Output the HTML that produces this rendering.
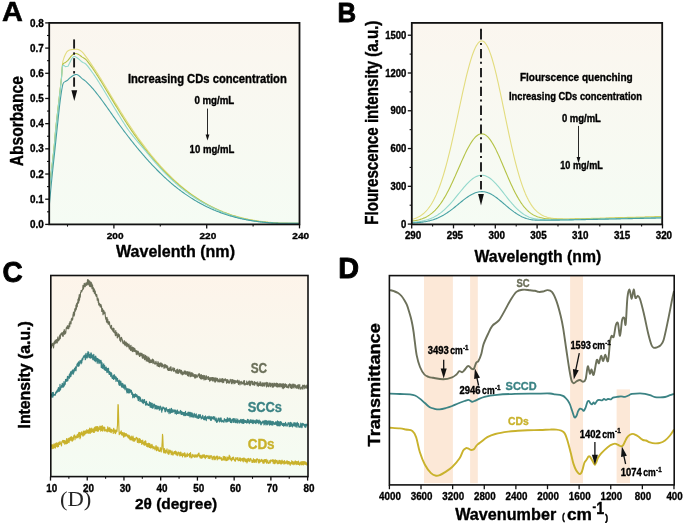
<!DOCTYPE html><html><head><meta charset="utf-8"><style>html,body{margin:0;padding:0;background:#fff;}svg{display:block;will-change:transform;}text{font-family:"Liberation Sans", sans-serif;}</style></head><body>
<svg width="685" height="523" viewBox="0 0 685 523">
<defs><linearGradient id="gA" x1="0" y1="0" x2="0" y2="1"><stop offset="0" stop-color="#fbf6ef"/><stop offset="1" stop-color="#f5fcf4"/></linearGradient><linearGradient id="gC" x1="0" y1="0" x2="0" y2="1"><stop offset="0" stop-color="#fdf4ea"/><stop offset="1" stop-color="#f4fcf3"/></linearGradient></defs>
<rect width="685" height="523" fill="#fff"/>
<rect x="49.2" y="22.9" width="250.3" height="201.5" fill="url(#gA)"/>
<path d="M49.5,186.5C50.22,180.42 52.78,159.42 53.8,150C54.82,140.58 54.93,136.67 55.6,130C56.27,123.33 57.05,116.67 57.8,110C58.55,103.33 59.47,95.67 60.1,90C60.73,84.33 61.18,80.5 61.6,76C62.02,71.5 62.23,65.93 62.6,63C62.97,60.07 63.35,59.8 63.8,58.4C64.25,57 65.05,55.23 65.3,54.6 L66.8,51.9 L67.55,51.19 L68.3,50.63 L69.05,50.29 L69.8,50.04 L70.55,49.82 L71.3,49.67 L72.05,49.57 L72.8,49.5 L73.55,49.44 L74.3,49.37 L75.05,49.3 L75.8,49.24 L76.55,49.23 L77.3,49.3 L78.05,49.48 L78.8,49.74 L79.55,50.1 L80.3,50.54 L81.05,51.06 L81.8,51.68 L82.55,52.39 L83.3,53.21 L84.05,54.11 L84.8,55.06 L85.55,56.05 L86.3,57.06 L87.05,58.08 L87.8,59.12 L88.55,60.17 L89.3,61.23 L90.05,62.3 L90.8,63.39 L91.55,64.49 L92.3,65.59 L93.05,66.71 L93.8,67.84 L94.55,68.98 L95.3,70.13 L96.05,71.29 L96.8,72.46 L97.55,73.63 L98.3,74.82 L99.05,76.01 L99.8,77.2 L100.55,78.41 L101.3,79.61 L102.05,80.83 L102.8,82.05 L103.55,83.27 L104.3,84.5 L105.05,85.74 L105.8,86.97 L106.55,88.21 L107.3,89.45 L108.05,90.7 L108.8,91.94 L109.55,93.19 L110.3,94.44 L111.05,95.69 L111.8,96.93 L112.55,98.18 L113.3,99.43 L114.05,100.67 L114.8,101.92 L115.55,103.16 L116.3,104.39 L117.05,105.63 L117.8,106.86 L118.55,108.09 L119.3,109.31 L120.05,110.53 L120.8,111.74 L121.55,112.95 L122.3,114.15 L123.05,115.35 L123.8,116.53 L124.55,117.71 L125.3,118.89 L126.05,120.06 L126.8,121.22 L127.55,122.37 L128.3,123.51 L129.05,124.65 L129.8,125.78 L130.55,126.91 L131.3,128.02 L132.05,129.13 L132.8,130.24 L133.55,131.33 L134.3,132.42 L135.05,133.5 L135.8,134.57 L136.55,135.64 L137.3,136.7 L138.05,137.75 L138.8,138.8 L139.55,139.84 L140.3,140.87 L141.05,141.89 L141.8,142.91 L142.55,143.92 L143.3,144.92 L144.05,145.92 L144.8,146.91 L145.55,147.89 L146.3,148.86 L147.05,149.83 L147.8,150.79 L148.55,151.74 L149.3,152.68 L150.05,153.62 L150.8,154.55 L151.55,155.48 L152.3,156.39 L153.05,157.3 L153.8,158.21 L154.55,159.1 L155.3,159.99 L156.05,160.87 L156.8,161.74 L157.55,162.61 L158.3,163.47 L159.05,164.32 L159.8,165.16 L160.55,166 L161.3,166.83 L162.05,167.66 L162.8,168.47 L163.55,169.28 L164.3,170.08 L165.05,170.88 L165.8,171.66 L166.55,172.44 L167.3,173.22 L168.05,173.98 L168.8,174.74 L169.55,175.49 L170.3,176.24 L171.05,176.97 L171.8,177.7 L172.55,178.43 L173.3,179.14 L174.05,179.85 L174.8,180.55 L175.55,181.24 L176.3,181.93 L177.05,182.61 L177.8,183.28 L178.55,183.95 L179.3,184.6 L180.05,185.25 L180.8,185.9 L181.55,186.53 L182.3,187.16 L183.05,187.78 L183.8,188.4 L184.55,189.01 L185.3,189.61 L186.05,190.2 L186.8,190.79 L187.55,191.37 L188.3,191.95 L189.05,192.51 L189.8,193.07 L190.55,193.63 L191.3,194.17 L192.05,194.71 L192.8,195.25 L193.55,195.78 L194.3,196.3 L195.05,196.81 L195.8,197.32 L196.55,197.82 L197.3,198.32 L198.05,198.81 L198.8,199.29 L199.55,199.77 L200.3,200.24 L201.05,200.7 L201.8,201.16 L202.55,201.61 L203.3,202.06 L204.05,202.5 L204.8,202.94 L205.55,203.36 L206.3,203.79 L207.05,204.2 L207.8,204.62 L208.55,205.02 L209.3,205.42 L210.05,205.82 L210.8,206.2 L211.55,206.59 L212.3,206.96 L213.05,207.34 L213.8,207.7 L214.55,208.06 L215.3,208.42 L216.05,208.77 L216.8,209.11 L217.55,209.45 L218.3,209.79 L219.05,210.12 L219.8,210.44 L220.55,210.76 L221.3,211.07 L222.05,211.38 L222.8,211.69 L223.55,211.98 L224.3,212.28 L225.05,212.57 L225.8,212.85 L226.55,213.13 L227.3,213.4 L228.05,213.67 L228.8,213.94 L229.55,214.2 L230.3,214.45 L231.05,214.7 L231.8,214.95 L232.55,215.19 L233.3,215.43 L234.05,215.66 L234.8,215.89 L235.55,216.12 L236.3,216.34 L237.05,216.55 L237.8,216.76 L238.55,216.97 L239.3,217.17 L240.05,217.37 L240.8,217.56 L241.55,217.75 L242.3,217.94 L243.05,218.12 L243.8,218.3 L244.55,218.48 L245.3,218.65 L246.05,218.81 L246.8,218.98 L247.55,219.14 L248.3,219.29 L249.05,219.44 L249.8,219.59 L250.55,219.74 L251.3,219.88 L252.05,220.01 L252.8,220.15 L253.55,220.28 L254.3,220.4 L255.05,220.53 L255.8,220.65 L256.55,220.77 L257.3,220.88 L258.05,220.99 L258.8,221.1 L259.55,221.2 L260.3,221.3 L261.05,221.4 L261.8,221.49 L262.55,221.59 L263.3,221.67 L264.05,221.76 L264.8,221.84 L265.55,221.92 L266.3,222 L267.05,222.07 L267.8,222.15 L268.55,222.22 L269.3,222.28 L270.05,222.35 L270.8,222.41 L271.55,222.47 L272.3,222.52 L273.05,222.57 L273.8,222.63 L274.55,222.67 L275.3,222.72 L276.05,222.76 L276.8,222.81 L277.55,222.85 L278.3,222.88 L279.05,222.92 L279.8,222.95 L280.55,222.98 L281.3,223.01 L282.05,223.04 L282.8,223.06 L283.55,223.09 L284.3,223.11 L285.05,223.13 L285.8,223.14 L286.55,223.16 L287.3,223.17 L288.05,223.18 L288.8,223.19 L289.55,223.2 L290.3,223.21 L291.05,223.21 L291.8,223.22 L292.55,223.22 L293.3,223.22 L294.05,223.22 L294.8,223.22 L295.55,223.22 L296.3,223.21 L297.05,223.21 L297.8,223.2 L298.55,223.2" fill="none" stroke="#e3dc7e" stroke-width="1.1" stroke-linejoin="round"/>
<path d="M49.5,187C50.22,180.92 52.78,159.92 53.8,150.5C54.82,141.08 54.93,137.17 55.6,130.5C56.27,123.83 57.05,117.17 57.8,110.5C58.55,103.83 59.47,96.17 60.1,90.5C60.73,84.83 61.18,80.75 61.6,76.5C62.02,72.25 61.98,67.32 62.6,65C63.22,62.68 64.85,63 65.3,62.6 L68,60.4 L68.75,59.31 L69.5,58.31 L70.25,57.36 L71,56.44 L71.75,55.58 L72.5,54.84 L73.25,54.25 L74,53.83 L74.75,53.57 L75.5,53.47 L76.25,53.5 L77,53.68 L77.75,53.99 L78.5,54.4 L79.25,54.88 L80,55.41 L80.75,55.98 L81.5,56.56 L82.25,57.12 L83,57.6 L83.75,58.02 L84.5,58.45 L85.25,58.98 L86,59.67 L86.75,60.5 L87.5,61.42 L88.25,62.37 L89,63.34 L89.75,64.33 L90.5,65.33 L91.25,66.36 L92,67.41 L92.75,68.49 L93.5,69.6 L94.25,70.73 L95,71.87 L95.75,73.03 L96.5,74.19 L97.25,75.36 L98,76.54 L98.75,77.73 L99.5,78.92 L100.25,80.12 L101,81.33 L101.75,82.54 L102.5,83.76 L103.25,84.98 L104,86.21 L104.75,87.44 L105.5,88.68 L106.25,89.92 L107,91.16 L107.75,92.4 L108.5,93.65 L109.25,94.89 L110,96.14 L110.75,97.39 L111.5,98.63 L112.25,99.88 L113,101.13 L113.75,102.37 L114.5,103.62 L115.25,104.86 L116,106.1 L116.75,107.34 L117.5,108.57 L118.25,109.8 L119,111.02 L119.75,112.24 L120.5,113.46 L121.25,114.67 L122,115.87 L122.75,117.07 L123.5,118.26 L124.25,119.44 L125,120.62 L125.75,121.79 L126.5,122.95 L127.25,124.11 L128,125.26 L128.75,126.39 L129.5,127.52 L130.25,128.64 L131,129.74 L131.75,130.84 L132.5,131.92 L133.25,133 L134,134.06 L134.75,135.13 L135.5,136.18 L136.25,137.23 L137,138.27 L137.75,139.3 L138.5,140.33 L139.25,141.35 L140,142.36 L140.75,143.36 L141.5,144.36 L142.25,145.35 L143,146.33 L143.75,147.31 L144.5,148.28 L145.25,149.24 L146,150.19 L146.75,151.14 L147.5,152.08 L148.25,153.01 L149,153.94 L149.75,154.86 L150.5,155.77 L151.25,156.67 L152,157.57 L152.75,158.46 L153.5,159.34 L154.25,160.22 L155,161.08 L155.75,161.95 L156.5,162.8 L157.25,163.65 L158,164.49 L158.75,165.32 L159.5,166.14 L160.25,166.96 L161,167.77 L161.75,168.58 L162.5,169.37 L163.25,170.16 L164,170.94 L164.75,171.72 L165.5,172.49 L166.25,173.25 L167,174 L167.75,174.75 L168.5,175.48 L169.25,176.22 L170,176.94 L170.75,177.66 L171.5,178.37 L172.25,179.07 L173,179.77 L173.75,180.45 L174.5,181.14 L175.25,181.81 L176,182.48 L176.75,183.14 L177.5,183.79 L178.25,184.43 L179,185.07 L179.75,185.7 L180.5,186.33 L181.25,186.94 L182,187.55 L182.75,188.15 L183.5,188.75 L184.25,189.34 L185,189.92 L185.75,190.49 L186.5,191.06 L187.25,191.62 L188,192.18 L188.75,192.72 L189.5,193.26 L190.25,193.8 L191,194.33 L191.75,194.85 L192.5,195.37 L193.25,195.88 L194,196.4 L194.75,196.91 L195.5,197.42 L196.25,197.92 L197,198.42 L197.75,198.91 L198.5,199.4 L199.25,199.88 L200,200.35 L200.75,200.82 L201.5,201.28 L202.25,201.73 L203,202.18 L203.75,202.63 L204.5,203.06 L205.25,203.49 L206,203.92 L206.75,204.34 L207.5,204.75 L208.25,205.16 L209,205.56 L209.75,205.96 L210.5,206.35 L211.25,206.73 L212,207.11 L212.75,207.49 L213.5,207.86 L214.25,208.22 L215,208.58 L215.75,208.93 L216.5,209.28 L217.25,209.62 L218,209.95 L218.75,210.29 L219.5,210.61 L220.25,210.93 L221,211.25 L221.75,211.56 L222.5,211.86 L223.25,212.17 L224,212.46 L224.75,212.75 L225.5,213.04 L226.25,213.32 L227,213.59 L227.75,213.87 L228.5,214.13 L229.25,214.39 L230,214.65 L230.75,214.9 L231.5,215.15 L232.25,215.4 L233,215.64 L233.75,215.87 L234.5,216.1 L235.25,216.33 L236,216.55 L236.75,216.76 L237.5,216.98 L238.25,217.19 L239,217.39 L239.75,217.59 L240.5,217.79 L241.25,217.98 L242,218.17 L242.75,218.35 L243.5,218.53 L244.25,218.71 L245,218.88 L245.75,219.05 L246.5,219.21 L247.25,219.37 L248,219.53 L248.75,219.68 L249.5,219.83 L250.25,219.98 L251,220.12 L251.75,220.26 L252.5,220.39 L253.25,220.53 L254,220.65 L254.75,220.78 L255.5,220.9 L256.25,221.02 L257,221.13 L257.75,221.25 L258.5,221.35 L259.25,221.46 L260,221.56 L260.75,221.66 L261.5,221.76 L262.25,221.85 L263,221.94 L263.75,222.03 L264.5,222.11 L265.25,222.19 L266,222.27 L266.75,222.35 L267.5,222.42 L268.25,222.49 L269,222.56 L269.75,222.62 L270.5,222.68 L271.25,222.74 L272,222.8 L272.75,222.85 L273.5,222.91 L274.25,222.96 L275,223 L275.75,223.05 L276.5,223.09 L277.25,223.13 L278,223.17 L278.75,223.2 L279.5,223.24 L280.25,223.27 L281,223.3 L281.75,223.32 L282.5,223.33 L283.25,223.34 L284,223.35 L284.75,223.35 L285.5,223.35 L286.25,223.35 L287,223.35 L287.75,223.35 L288.5,223.35 L289.25,223.35 L290,223.35 L290.75,223.35 L291.5,223.35 L292.25,223.35 L293,223.35 L293.75,223.35 L294.5,223.35 L295.25,223.35 L296,223.35 L296.75,223.35 L297.5,223.35 L298.25,223.35 L299,223.35" fill="none" stroke="#b4c244" stroke-width="1.1" stroke-linejoin="round"/>
<path d="M49.5,187.5C50.22,181.42 52.78,160.42 53.8,151C54.82,141.58 54.93,137.67 55.6,131C56.27,124.33 57.05,117.67 57.8,111C58.55,104.33 59.47,96.67 60.1,91C60.73,85.33 61.18,81.17 61.6,77C62.02,72.83 61.98,67.73 62.6,66C63.22,64.27 64.85,66.5 65.3,66.6 L68,66.3 L68.75,64.75 L69.5,63.27 L70.25,61.69 L71,60.12 L71.75,58.73 L72.5,57.62 L73.25,56.9 L74,56.57 L74.75,56.57 L75.5,56.81 L76.25,57.21 L77,57.71 L77.75,58.28 L78.5,58.9 L79.25,59.54 L80,60.2 L80.75,60.86 L81.5,61.5 L82.25,62.06 L83,62.5 L83.75,62.83 L84.5,63.14 L85.25,63.58 L86,64.22 L86.75,65.04 L87.5,65.95 L88.25,66.92 L89,67.9 L89.75,68.9 L90.5,69.9 L91.25,70.92 L92,71.95 L92.75,72.99 L93.5,74.05 L94.25,75.13 L95,76.23 L95.75,77.35 L96.5,78.5 L97.25,79.66 L98,80.84 L98.75,82.03 L99.5,83.22 L100.25,84.42 L101,85.63 L101.75,86.84 L102.5,88.06 L103.25,89.28 L104,90.51 L104.75,91.74 L105.5,92.98 L106.25,94.22 L107,95.46 L107.75,96.7 L108.5,97.95 L109.25,99.19 L110,100.44 L110.75,101.69 L111.5,102.93 L112.25,104.18 L113,105.43 L113.75,106.67 L114.5,107.92 L115.25,109.16 L116,110.4 L116.75,111.64 L117.5,112.87 L118.25,114.1 L119,115.32 L119.75,116.54 L120.5,117.76 L121.25,118.97 L122,120.17 L122.75,121.37 L123.5,122.56 L124.25,123.74 L125,124.92 L125.75,126.08 L126.5,127.23 L127.25,128.35 L128,129.44 L128.75,130.49 L129.5,131.5 L130.25,132.49 L131,133.46 L131.75,134.42 L132.5,135.37 L133.25,136.31 L134,137.25 L134.75,138.18 L135.5,139.1 L136.25,140.02 L137,140.93 L137.75,141.83 L138.5,142.72 L139.25,143.61 L140,144.49 L140.75,145.36 L141.5,146.22 L142.25,147.08 L143,147.94 L143.75,148.79 L144.5,149.66 L145.25,150.55 L146,151.46 L146.75,152.38 L147.5,153.31 L148.25,154.24 L149,155.16 L149.75,156.07 L150.5,156.98 L151.25,157.88 L152,158.77 L152.75,159.66 L153.5,160.53 L154.25,161.4 L155,162.27 L155.75,163.12 L156.5,163.97 L157.25,164.81 L158,165.65 L158.75,166.48 L159.5,167.3 L160.25,168.11 L161,168.92 L161.75,169.71 L162.5,170.51 L163.25,171.29 L164,172.07 L164.75,172.84 L165.5,173.6 L166.25,174.35 L167,175.1 L167.75,175.84 L168.5,176.58 L169.25,177.3 L170,178.02 L170.75,178.74 L171.5,179.44 L172.25,180.14 L173,180.83 L173.75,181.51 L174.5,182.19 L175.25,182.86 L176,183.52 L176.75,184.17 L177.5,184.82 L178.25,185.46 L179,186.1 L179.75,186.72 L180.5,187.34 L181.25,187.95 L182,188.56 L182.75,189.15 L183.5,189.74 L184.25,190.33 L185,190.9 L185.75,191.47 L186.5,192.04 L187.25,192.59 L188,193.14 L188.75,193.68 L189.5,194.22 L190.25,194.75 L191,195.27 L191.75,195.79 L192.5,196.29 L193.25,196.8 L194,197.29 L194.75,197.78 L195.5,198.27 L196.25,198.74 L197,199.21 L197.75,199.68 L198.5,200.14 L199.25,200.59 L200,201.03 L200.75,201.47 L201.5,201.91 L202.25,202.33 L203,202.76 L203.75,203.17 L204.5,203.58 L205.25,203.98 L206,204.38 L206.75,204.77 L207.5,205.16 L208.25,205.54 L209,205.92 L209.75,206.29 L210.5,206.67 L211.25,207.04 L212,207.42 L212.75,207.79 L213.5,208.16 L214.25,208.52 L215,208.88 L215.75,209.23 L216.5,209.58 L217.25,209.92 L218,210.25 L218.75,210.59 L219.5,210.91 L220.25,211.23 L221,211.55 L221.75,211.86 L222.5,212.16 L223.25,212.47 L224,212.76 L224.75,213.05 L225.5,213.34 L226.25,213.62 L227,213.89 L227.75,214.17 L228.5,214.43 L229.25,214.69 L230,214.95 L230.75,215.2 L231.5,215.45 L232.25,215.7 L233,215.94 L233.75,216.17 L234.5,216.4 L235.25,216.63 L236,216.85 L236.75,217.06 L237.5,217.28 L238.25,217.49 L239,217.69 L239.75,217.89 L240.5,218.09 L241.25,218.28 L242,218.47 L242.75,218.65 L243.5,218.83 L244.25,219.01 L245,219.18 L245.75,219.35 L246.5,219.51 L247.25,219.67 L248,219.83 L248.75,219.98 L249.5,220.13 L250.25,220.28 L251,220.42 L251.75,220.56 L252.5,220.69 L253.25,220.83 L254,220.95 L254.75,221.08 L255.5,221.2 L256.25,221.32 L257,221.43 L257.75,221.55 L258.5,221.65 L259.25,221.76 L260,221.86 L260.75,221.96 L261.5,222.06 L262.25,222.15 L263,222.24 L263.75,222.33 L264.5,222.41 L265.25,222.49 L266,222.57 L266.75,222.65 L267.5,222.72 L268.25,222.79 L269,222.86 L269.75,222.92 L270.5,222.98 L271.25,223.04 L272,223.1 L272.75,223.15 L273.5,223.21 L274.25,223.25 L275,223.3 L275.75,223.34 L276.5,223.37 L277.25,223.38 L278,223.39 L278.75,223.4 L279.5,223.4 L280.25,223.4 L281,223.4 L281.75,223.4 L282.5,223.4 L283.25,223.4 L284,223.4 L284.75,223.4 L285.5,223.4 L286.25,223.4 L287,223.4 L287.75,223.4 L288.5,223.4 L289.25,223.4 L290,223.4 L290.75,223.4 L291.5,223.4 L292.25,223.4 L293,223.4 L293.75,223.4 L294.5,223.4 L295.25,223.4 L296,223.4 L296.75,223.4 L297.5,223.4 L298.25,223.4 L299,223.4" fill="none" stroke="#92d8cc" stroke-width="1.1" stroke-linejoin="round"/>
<path d="M49.5,203.4C49.92,199 51.1,185.9 52,177C52.9,168.1 53.98,158.67 54.9,150C55.82,141.33 56.6,133.33 57.5,125C58.4,116.67 59.4,106.8 60.3,100C61.2,93.2 62.07,87.28 62.9,84.2C63.73,81.12 64.9,81.95 65.3,81.5 L67.6,80.2 L68.35,79.38 L69.1,78.63 L69.85,77.94 L70.6,77.33 L71.35,76.74 L72.1,76.22 L72.85,75.75 L73.6,75.32 L74.35,74.94 L75.1,74.64 L75.85,74.47 L76.6,74.48 L77.35,74.69 L78.1,75.09 L78.85,75.62 L79.6,76.26 L80.35,76.95 L81.1,77.66 L81.85,78.33 L82.6,78.94 L83.35,79.5 L84.1,80.03 L84.85,80.59 L85.6,81.19 L86.35,81.84 L87.1,82.54 L87.85,83.28 L88.6,84.03 L89.35,84.81 L90.1,85.61 L90.85,86.42 L91.6,87.26 L92.35,88.11 L93.1,88.98 L93.85,89.86 L94.6,90.76 L95.35,91.68 L96.1,92.61 L96.85,93.55 L97.6,94.51 L98.35,95.48 L99.1,96.46 L99.85,97.45 L100.6,98.45 L101.35,99.46 L102.1,100.48 L102.85,101.5 L103.6,102.54 L104.35,103.58 L105.1,104.62 L105.85,105.68 L106.6,106.73 L107.35,107.79 L108.1,108.85 L108.85,109.92 L109.6,110.98 L110.35,112.05 L111.1,113.12 L111.85,114.19 L112.6,115.25 L113.35,116.32 L114.1,117.38 L114.85,118.44 L115.6,119.49 L116.35,120.54 L117.1,121.59 L117.85,122.63 L118.6,123.67 L119.35,124.7 L120.1,125.73 L120.85,126.75 L121.6,127.77 L122.35,128.79 L123.1,129.79 L123.85,130.8 L124.6,131.8 L125.35,132.79 L126.1,133.78 L126.85,134.76 L127.6,135.74 L128.35,136.72 L129.1,137.69 L129.85,138.65 L130.6,139.61 L131.35,140.56 L132.1,141.51 L132.85,142.45 L133.6,143.39 L134.35,144.33 L135.1,145.25 L135.85,146.17 L136.6,147.09 L137.35,148 L138.1,148.91 L138.85,149.81 L139.6,150.71 L140.35,151.6 L141.1,152.48 L141.85,153.36 L142.6,154.23 L143.35,155.1 L144.1,155.96 L144.85,156.82 L145.6,157.67 L146.35,158.52 L147.1,159.36 L147.85,160.19 L148.6,161.02 L149.35,161.84 L150.1,162.66 L150.85,163.47 L151.6,164.28 L152.35,165.07 L153.1,165.87 L153.85,166.66 L154.6,167.44 L155.35,168.21 L156.1,168.98 L156.85,169.75 L157.6,170.5 L158.35,171.26 L159.1,172 L159.85,172.74 L160.6,173.47 L161.35,174.2 L162.1,174.92 L162.85,175.63 L163.6,176.34 L164.35,177.04 L165.1,177.74 L165.85,178.43 L166.6,179.11 L167.35,179.79 L168.1,180.46 L168.85,181.12 L169.6,181.78 L170.35,182.43 L171.1,183.07 L171.85,183.71 L172.6,184.34 L173.35,184.97 L174.1,185.59 L174.85,186.2 L175.6,186.8 L176.35,187.4 L177.1,187.99 L177.85,188.58 L178.6,189.16 L179.35,189.74 L180.1,190.3 L180.85,190.86 L181.6,191.42 L182.35,191.97 L183.1,192.51 L183.85,193.05 L184.6,193.58 L185.35,194.11 L186.1,194.63 L186.85,195.14 L187.6,195.65 L188.35,196.15 L189.1,196.65 L189.85,197.14 L190.6,197.62 L191.35,198.1 L192.1,198.57 L192.85,199.04 L193.6,199.5 L194.35,199.96 L195.1,200.41 L195.85,200.85 L196.6,201.29 L197.35,201.73 L198.1,202.16 L198.85,202.58 L199.6,203 L200.35,203.41 L201.1,203.82 L201.85,204.22 L202.6,204.61 L203.35,205.01 L204.1,205.39 L204.85,205.77 L205.6,206.15 L206.35,206.52 L207.1,206.89 L207.85,207.25 L208.6,207.6 L209.35,207.95 L210.1,208.3 L210.85,208.64 L211.6,208.98 L212.35,209.31 L213.1,209.63 L213.85,209.96 L214.6,210.27 L215.35,210.59 L216.1,210.89 L216.85,211.2 L217.6,211.49 L218.35,211.79 L219.1,212.08 L219.85,212.36 L220.6,212.64 L221.35,212.92 L222.1,213.19 L222.85,213.46 L223.6,213.72 L224.35,213.98 L225.1,214.23 L225.85,214.48 L226.6,214.72 L227.35,214.97 L228.1,215.2 L228.85,215.44 L229.6,215.66 L230.35,215.89 L231.1,216.11 L231.85,216.33 L232.6,216.54 L233.35,216.75 L234.1,216.95 L234.85,217.15 L235.6,217.35 L236.35,217.54 L237.1,217.73 L237.85,217.92 L238.6,218.1 L239.35,218.28 L240.1,218.45 L240.85,218.62 L241.6,218.79 L242.35,218.95 L243.1,219.11 L243.85,219.27 L244.6,219.42 L245.35,219.57 L246.1,219.72 L246.85,219.86 L247.6,220 L248.35,220.13 L249.1,220.27 L249.85,220.4 L250.6,220.52 L251.35,220.64 L252.1,220.76 L252.85,220.88 L253.6,220.99 L254.35,221.1 L255.1,221.21 L255.85,221.32 L256.6,221.42 L257.35,221.52 L258.1,221.61 L258.85,221.7 L259.6,221.79 L260.35,221.88 L261.1,221.96 L261.85,222.05 L262.6,222.12 L263.35,222.2 L264.1,222.27 L264.85,222.34 L265.6,222.41 L266.35,222.48 L267.1,222.54 L267.85,222.6 L268.6,222.66 L269.35,222.71 L270.1,222.77 L270.85,222.82 L271.6,222.86 L272.35,222.91 L273.1,222.95 L273.85,222.99 L274.6,223.03 L275.35,223.07 L276.1,223.1 L276.85,223.14 L277.6,223.17 L278.35,223.2 L279.1,223.22 L279.85,223.25 L280.6,223.27 L281.35,223.28 L282.1,223.29 L282.85,223.3 L283.6,223.3 L284.35,223.3 L285.1,223.3 L285.85,223.3 L286.6,223.3 L287.35,223.3 L288.1,223.3 L288.85,223.3 L289.6,223.3 L290.35,223.3 L291.1,223.3 L291.85,223.3 L292.6,223.3 L293.35,223.3 L294.1,223.3 L294.85,223.3 L295.6,223.3 L296.35,223.3 L297.1,223.3 L297.85,223.3 L298.6,223.29" fill="none" stroke="#45a0a2" stroke-width="1.1" stroke-linejoin="round"/>
<line x1="74.1" y1="39.4" x2="74.1" y2="48.6" stroke="#1a1a1a" stroke-width="1.9"/>
<line x1="74.1" y1="52.4" x2="74.1" y2="54.7" stroke="#1a1a1a" stroke-width="1.9"/>
<line x1="74.1" y1="58.2" x2="74.1" y2="67.4" stroke="#1a1a1a" stroke-width="1.9"/>
<line x1="74.1" y1="71.1" x2="74.1" y2="73.5" stroke="#1a1a1a" stroke-width="1.9"/>
<line x1="74.1" y1="77.4" x2="74.1" y2="86.7" stroke="#1a1a1a" stroke-width="1.9"/>
<path d="M71.4,90.2 L77.2,90.2 L74.3,100.9 Z" fill="#111"/>
<rect x="49.2" y="22.9" width="250.3" height="201.5" fill="none" stroke="#111" stroke-width="1.8"/>
<line x1="45.2" y1="224.4" x2="49.2" y2="224.4" stroke="#111" stroke-width="1.3"/>
<text x="43.8" y="228" font-size="10.5" font-weight="bold" text-anchor="end" fill="#000" stroke="#000" stroke-width="0.35" stroke-linejoin="round" textLength="13.8" lengthAdjust="spacingAndGlyphs">0.0</text>
<line x1="45.2" y1="199.21" x2="49.2" y2="199.21" stroke="#111" stroke-width="1.3"/>
<text x="43.8" y="202.81" font-size="10.5" font-weight="bold" text-anchor="end" fill="#000" stroke="#000" stroke-width="0.35" stroke-linejoin="round" textLength="13.8" lengthAdjust="spacingAndGlyphs">0.1</text>
<line x1="45.2" y1="174.03" x2="49.2" y2="174.03" stroke="#111" stroke-width="1.3"/>
<text x="43.8" y="177.62" font-size="10.5" font-weight="bold" text-anchor="end" fill="#000" stroke="#000" stroke-width="0.35" stroke-linejoin="round" textLength="13.8" lengthAdjust="spacingAndGlyphs">0.2</text>
<line x1="45.2" y1="148.84" x2="49.2" y2="148.84" stroke="#111" stroke-width="1.3"/>
<text x="43.8" y="152.44" font-size="10.5" font-weight="bold" text-anchor="end" fill="#000" stroke="#000" stroke-width="0.35" stroke-linejoin="round" textLength="13.8" lengthAdjust="spacingAndGlyphs">0.3</text>
<line x1="45.2" y1="123.65" x2="49.2" y2="123.65" stroke="#111" stroke-width="1.3"/>
<text x="43.8" y="127.25" font-size="10.5" font-weight="bold" text-anchor="end" fill="#000" stroke="#000" stroke-width="0.35" stroke-linejoin="round" textLength="13.8" lengthAdjust="spacingAndGlyphs">0.4</text>
<line x1="45.2" y1="98.46" x2="49.2" y2="98.46" stroke="#111" stroke-width="1.3"/>
<text x="43.8" y="102.06" font-size="10.5" font-weight="bold" text-anchor="end" fill="#000" stroke="#000" stroke-width="0.35" stroke-linejoin="round" textLength="13.8" lengthAdjust="spacingAndGlyphs">0.5</text>
<line x1="45.2" y1="73.28" x2="49.2" y2="73.28" stroke="#111" stroke-width="1.3"/>
<text x="43.8" y="76.88" font-size="10.5" font-weight="bold" text-anchor="end" fill="#000" stroke="#000" stroke-width="0.35" stroke-linejoin="round" textLength="13.8" lengthAdjust="spacingAndGlyphs">0.6</text>
<line x1="45.2" y1="48.09" x2="49.2" y2="48.09" stroke="#111" stroke-width="1.3"/>
<text x="43.8" y="51.69" font-size="10.5" font-weight="bold" text-anchor="end" fill="#000" stroke="#000" stroke-width="0.35" stroke-linejoin="round" textLength="13.8" lengthAdjust="spacingAndGlyphs">0.7</text>
<line x1="45.2" y1="22.9" x2="49.2" y2="22.9" stroke="#111" stroke-width="1.3"/>
<text x="43.8" y="26.5" font-size="10.5" font-weight="bold" text-anchor="end" fill="#000" stroke="#000" stroke-width="0.35" stroke-linejoin="round" textLength="13.8" lengthAdjust="spacingAndGlyphs">0.8</text>
<line x1="47" y1="211.81" x2="49.2" y2="211.81" stroke="#111" stroke-width="1.1"/>
<line x1="47" y1="186.62" x2="49.2" y2="186.62" stroke="#111" stroke-width="1.1"/>
<line x1="47" y1="161.43" x2="49.2" y2="161.43" stroke="#111" stroke-width="1.1"/>
<line x1="47" y1="136.24" x2="49.2" y2="136.24" stroke="#111" stroke-width="1.1"/>
<line x1="47" y1="111.06" x2="49.2" y2="111.06" stroke="#111" stroke-width="1.1"/>
<line x1="47" y1="85.87" x2="49.2" y2="85.87" stroke="#111" stroke-width="1.1"/>
<line x1="47" y1="60.68" x2="49.2" y2="60.68" stroke="#111" stroke-width="1.1"/>
<line x1="47" y1="35.49" x2="49.2" y2="35.49" stroke="#111" stroke-width="1.1"/>
<line x1="113.9" y1="224.4" x2="113.9" y2="228.4" stroke="#111" stroke-width="1.3"/>
<text x="115.1" y="239" font-size="9.6" font-weight="bold" text-anchor="middle" fill="#000" stroke="#000" stroke-width="0.35" stroke-linejoin="round" textLength="16.8" lengthAdjust="spacingAndGlyphs">200</text>
<line x1="206.7" y1="224.4" x2="206.7" y2="228.4" stroke="#111" stroke-width="1.3"/>
<text x="207.9" y="239" font-size="9.6" font-weight="bold" text-anchor="middle" fill="#000" stroke="#000" stroke-width="0.35" stroke-linejoin="round" textLength="16.8" lengthAdjust="spacingAndGlyphs">220</text>
<line x1="299.5" y1="224.4" x2="299.5" y2="228.4" stroke="#111" stroke-width="1.3"/>
<text x="300.7" y="239" font-size="9.6" font-weight="bold" text-anchor="middle" fill="#000" stroke="#000" stroke-width="0.35" stroke-linejoin="round" textLength="16.8" lengthAdjust="spacingAndGlyphs">240</text>
<line x1="67.5" y1="224.4" x2="67.5" y2="226.6" stroke="#111" stroke-width="1.1"/>
<line x1="160.3" y1="224.4" x2="160.3" y2="226.6" stroke="#111" stroke-width="1.1"/>
<line x1="253.1" y1="224.4" x2="253.1" y2="226.6" stroke="#111" stroke-width="1.1"/>
<text x="2.1" y="21.4" font-size="28.5" font-weight="bold" fill="#000" stroke="#000" stroke-width="0.6" stroke-linejoin="round" textLength="20.9" lengthAdjust="spacingAndGlyphs">A</text>
<text x="116" y="256.7" font-size="17" font-weight="bold" fill="#000" stroke="#000" stroke-width="0.35" stroke-linejoin="round" textLength="119" lengthAdjust="spacingAndGlyphs">Wavelenth (nm)</text>
<text transform="translate(23.2 166.2) rotate(-90)" font-size="18" font-weight="bold" stroke="#000" stroke-width="0.4" textLength="90" lengthAdjust="spacingAndGlyphs">Absorbance</text>
<text x="127.9" y="83.1" font-size="12" font-weight="bold" fill="#000" stroke="#000" stroke-width="0.35" stroke-linejoin="round" textLength="158.9" lengthAdjust="spacingAndGlyphs">Increasing CDs concentration</text>
<text x="194.4" y="104.1" font-size="10" font-weight="bold" fill="#000" stroke="#000" stroke-width="0.35" stroke-linejoin="round" textLength="39.9" lengthAdjust="spacingAndGlyphs">0 mg/mL</text>
<text x="189.6" y="152.5" font-size="10" font-weight="bold" fill="#000" stroke="#000" stroke-width="0.35" stroke-linejoin="round" textLength="44.7" lengthAdjust="spacingAndGlyphs">10 mg/mL</text>
<line x1="207.5" y1="108.6" x2="207.5" y2="136" stroke="#111" stroke-width="0.9"/>
<path d="M205.6,134.5 L209.4,134.5 L207.5,140.6 Z" fill="#111"/>
<rect x="411.8" y="22.9" width="250.4" height="201.5" fill="url(#gA)"/>
<path d="M412.3,219.34 L413.3,219.06 L414.3,218.74 L415.3,218.38 L416.3,217.98 L417.3,217.54 L418.3,217.05 L419.3,216.51 L420.3,215.91 L421.3,215.25 L422.3,214.53 L423.3,213.73 L424.3,212.86 L425.3,211.91 L426.3,210.87 L427.3,209.74 L428.3,208.52 L429.3,207.19 L430.3,205.76 L431.3,204.21 L432.3,202.55 L433.3,200.76 L434.3,198.85 L435.3,196.81 L436.3,194.63 L437.3,192.31 L438.3,189.85 L439.3,187.24 L440.3,184.49 L441.3,181.59 L442.3,178.54 L443.3,175.35 L444.3,172.01 L445.3,168.52 L446.3,164.89 L447.3,161.12 L448.3,157.22 L449.3,153.2 L450.3,149.05 L451.3,144.8 L452.3,140.44 L453.3,136 L454.3,131.47 L455.3,126.89 L456.3,122.25 L457.3,117.57 L458.3,112.87 L459.3,108.18 L460.3,103.49 L461.3,98.84 L462.3,94.24 L463.3,89.71 L464.3,85.26 L465.3,80.93 L466.3,76.73 L467.3,72.67 L468.3,68.79 L469.3,65.09 L470.3,61.59 L471.3,58.32 L472.3,55.29 L473.3,52.51 L474.3,50 L475.3,47.78 L476.3,45.85 L477.3,44.22 L478.3,42.91 L479.3,41.92 L480.3,41.26 L481.3,40.93 L482.3,40.93 L483.3,41.29 L484.3,42 L485.3,43.06 L486.3,44.46 L487.3,46.2 L488.3,48.27 L489.3,50.64 L490.3,53.32 L491.3,56.28 L492.3,59.52 L493.3,63 L494.3,66.71 L495.3,70.63 L496.3,74.74 L497.3,79.03 L498.3,83.46 L499.3,88.02 L500.3,92.68 L501.3,97.42 L502.3,102.22 L503.3,107.07 L504.3,111.93 L505.3,116.8 L506.3,121.64 L507.3,126.45 L508.3,131.2 L509.3,135.89 L510.3,140.49 L511.3,145 L512.3,149.39 L513.3,153.67 L514.3,157.81 L515.3,161.82 L516.3,165.69 L517.3,169.41 L518.3,172.97 L519.3,176.37 L520.3,179.61 L521.3,182.69 L522.3,185.61 L523.3,188.37 L524.3,190.97 L525.3,193.41 L526.3,195.69 L527.3,197.82 L528.3,199.8 L529.3,201.64 L530.3,203.34 L531.3,204.9 L532.3,206.34 L533.3,207.65 L534.3,208.85 L535.3,209.95 L536.3,210.94 L537.3,211.84 L538.3,212.66 L539.3,213.4 L540.3,214.07 L541.3,214.67 L542.3,215.22 L543.3,215.72 L544.3,216.16 L545.3,216.56 L546.3,216.89 L547.3,217.19 L548.3,217.45 L549.3,217.68 L550.3,217.89 L551.3,218.07 L552.3,218.22 L553.3,218.36 L554.3,218.47 L555.3,218.57 L556.3,218.66 L557.3,218.73 L558.3,218.79 L559.3,218.83 L560.3,218.87 L561.3,218.9 L562.3,218.92 L563.3,218.94 L564.3,218.95 L565.3,218.95 L566.3,218.95 L567.3,218.95 L568.3,218.94 L569.3,218.93 L570.3,218.91 L571.3,218.9 L572.3,218.88 L573.3,218.86 L574.3,218.84 L575.3,218.82 L576.3,218.8 L577.3,218.78 L578.3,218.75 L579.3,218.73 L580.3,218.7 L581.3,218.68 L582.3,218.65 L583.3,218.63 L584.3,218.6 L585.3,218.57 L586.3,218.55 L587.3,218.52 L588.3,218.49 L589.3,218.46 L590.3,218.44 L591.3,218.41 L592.3,218.38 L593.3,218.35 L594.3,218.33 L595.3,218.3 L596.3,218.27 L597.3,218.24 L598.3,218.22 L599.3,218.19 L600.3,218.16 L601.3,218.13 L602.3,218.11 L603.3,218.08 L604.3,218.05 L605.3,218.02 L606.3,217.99 L607.3,217.97 L608.3,217.94 L609.3,217.91 L610.3,217.88 L611.3,217.86 L612.3,217.83 L613.3,217.8 L614.3,217.77 L615.3,217.75 L616.3,217.72 L617.3,217.69 L618.3,217.66 L619.3,217.63 L620.3,217.61 L621.3,217.58 L622.3,217.55 L623.3,217.52 L624.3,217.5 L625.3,217.47 L626.3,217.44 L627.3,217.41 L628.3,217.39 L629.3,217.36 L630.3,217.33 L631.3,217.3 L632.3,217.27 L633.3,217.25 L634.3,217.22 L635.3,217.19 L636.3,217.16 L637.3,217.14 L638.3,217.11 L639.3,217.08 L640.3,217.05 L641.3,217.03 L642.3,217 L643.3,216.97 L644.3,216.94 L645.3,216.91 L646.3,216.89 L647.3,216.86 L648.3,216.83 L649.3,216.8 L650.3,216.78 L651.3,216.75 L652.3,216.72 L653.3,216.69 L654.3,216.66 L655.3,216.64 L656.3,216.61 L657.3,216.58 L658.3,216.55 L659.3,216.53 L660.3,216.5 L661.3,216.47" fill="none" stroke="#e3dc7e" stroke-width="1.1" stroke-linejoin="round"/>
<path d="M412.3,221.05 L413.3,220.91 L414.3,220.76 L415.3,220.58 L416.3,220.39 L417.3,220.17 L418.3,219.93 L419.3,219.67 L420.3,219.38 L421.3,219.05 L422.3,218.7 L423.3,218.31 L424.3,217.88 L425.3,217.42 L426.3,216.91 L427.3,216.36 L428.3,215.76 L429.3,215.11 L430.3,214.41 L431.3,213.66 L432.3,212.84 L433.3,211.97 L434.3,211.04 L435.3,210.04 L436.3,208.97 L437.3,207.84 L438.3,206.63 L439.3,205.36 L440.3,204.02 L441.3,202.6 L442.3,201.11 L443.3,199.55 L444.3,197.91 L445.3,196.21 L446.3,194.43 L447.3,192.59 L448.3,190.69 L449.3,188.72 L450.3,186.69 L451.3,184.61 L452.3,182.48 L453.3,180.31 L454.3,178.1 L455.3,175.86 L456.3,173.59 L457.3,171.3 L458.3,169.01 L459.3,166.71 L460.3,164.42 L461.3,162.14 L462.3,159.9 L463.3,157.68 L464.3,155.51 L465.3,153.39 L466.3,151.34 L467.3,149.35 L468.3,147.45 L469.3,145.65 L470.3,143.94 L471.3,142.34 L472.3,140.86 L473.3,139.5 L474.3,138.27 L475.3,137.18 L476.3,136.24 L477.3,135.45 L478.3,134.81 L479.3,134.32 L480.3,134 L481.3,133.84 L482.3,133.84 L483.3,134.01 L484.3,134.36 L485.3,134.88 L486.3,135.56 L487.3,136.41 L488.3,137.42 L489.3,138.59 L490.3,139.89 L491.3,141.34 L492.3,142.92 L493.3,144.62 L494.3,146.44 L495.3,148.36 L496.3,150.37 L497.3,152.46 L498.3,154.63 L499.3,156.85 L500.3,159.13 L501.3,161.45 L502.3,163.8 L503.3,166.17 L504.3,168.54 L505.3,170.92 L506.3,173.29 L507.3,175.64 L508.3,177.96 L509.3,180.25 L510.3,182.5 L511.3,184.7 L512.3,186.85 L513.3,188.93 L514.3,190.96 L515.3,192.91 L516.3,194.8 L517.3,196.61 L518.3,198.35 L519.3,200 L520.3,201.58 L521.3,203.07 L522.3,204.49 L523.3,205.82 L524.3,207.07 L525.3,208.24 L526.3,209.33 L527.3,210.34 L528.3,211.28 L529.3,212.13 L530.3,212.92 L531.3,213.63 L532.3,214.28 L533.3,214.87 L534.3,215.39 L535.3,215.86 L536.3,216.29 L537.3,216.66 L538.3,217 L539.3,217.3 L540.3,217.58 L541.3,217.82 L542.3,218.04 L543.3,218.24 L544.3,218.42 L545.3,218.58 L546.3,218.7 L547.3,218.81 L548.3,218.91 L549.3,219 L550.3,219.07 L551.3,219.13 L552.3,219.19 L553.3,219.23 L554.3,219.27 L555.3,219.3 L556.3,219.33 L557.3,219.35 L558.3,219.36 L559.3,219.37 L560.3,219.38 L561.3,219.38 L562.3,219.37 L563.3,219.37 L564.3,219.36 L565.3,219.35 L566.3,219.34 L567.3,219.32 L568.3,219.31 L569.3,219.29 L570.3,219.27 L571.3,219.25 L572.3,219.23 L573.3,219.21 L574.3,219.19 L575.3,219.17 L576.3,219.14 L577.3,219.12 L578.3,219.1 L579.3,219.07 L580.3,219.05 L581.3,219.03 L582.3,219 L583.3,218.98 L584.3,218.95 L585.3,218.93 L586.3,218.9 L587.3,218.88 L588.3,218.85 L589.3,218.83 L590.3,218.8 L591.3,218.78 L592.3,218.75 L593.3,218.73 L594.3,218.7 L595.3,218.68 L596.3,218.65 L597.3,218.63 L598.3,218.6 L599.3,218.58 L600.3,218.55 L601.3,218.53 L602.3,218.5 L603.3,218.48 L604.3,218.45 L605.3,218.43 L606.3,218.4 L607.3,218.38 L608.3,218.35 L609.3,218.33 L610.3,218.3 L611.3,218.27 L612.3,218.25 L613.3,218.22 L614.3,218.2 L615.3,218.17 L616.3,218.15 L617.3,218.12 L618.3,218.1 L619.3,218.07 L620.3,218.05 L621.3,218.02 L622.3,218 L623.3,217.97 L624.3,217.95 L625.3,217.92 L626.3,217.9 L627.3,217.87 L628.3,217.85 L629.3,217.82 L630.3,217.8 L631.3,217.77 L632.3,217.75 L633.3,217.72 L634.3,217.7 L635.3,217.67 L636.3,217.65 L637.3,217.62 L638.3,217.59 L639.3,217.57 L640.3,217.54 L641.3,217.52 L642.3,217.49 L643.3,217.47 L644.3,217.44 L645.3,217.42 L646.3,217.39 L647.3,217.37 L648.3,217.34 L649.3,217.32 L650.3,217.29 L651.3,217.27 L652.3,217.24 L653.3,217.22 L654.3,217.19 L655.3,217.17 L656.3,217.14 L657.3,217.12 L658.3,217.09 L659.3,217.07 L660.3,217.04 L661.3,217.02" fill="none" stroke="#b4c244" stroke-width="1.1" stroke-linejoin="round"/>
<path d="M412.3,222.28 L413.3,222.21 L414.3,222.12 L415.3,222.03 L416.3,221.93 L417.3,221.81 L418.3,221.68 L419.3,221.54 L420.3,221.38 L421.3,221.21 L422.3,221.01 L423.3,220.8 L424.3,220.58 L425.3,220.32 L426.3,220.05 L427.3,219.75 L428.3,219.43 L429.3,219.08 L430.3,218.7 L431.3,218.3 L432.3,217.86 L433.3,217.39 L434.3,216.88 L435.3,216.34 L436.3,215.77 L437.3,215.16 L438.3,214.51 L439.3,213.82 L440.3,213.1 L441.3,212.33 L442.3,211.53 L443.3,210.69 L444.3,209.81 L445.3,208.89 L446.3,207.93 L447.3,206.94 L448.3,205.91 L449.3,204.85 L450.3,203.76 L451.3,202.63 L452.3,201.49 L453.3,200.31 L454.3,199.12 L455.3,197.91 L456.3,196.69 L457.3,195.46 L458.3,194.22 L459.3,192.98 L460.3,191.75 L461.3,190.52 L462.3,189.31 L463.3,188.11 L464.3,186.94 L465.3,185.8 L466.3,184.69 L467.3,183.62 L468.3,182.6 L469.3,181.62 L470.3,180.7 L471.3,179.84 L472.3,179.04 L473.3,178.31 L474.3,177.65 L475.3,177.06 L476.3,176.55 L477.3,176.12 L478.3,175.78 L479.3,175.52 L480.3,175.34 L481.3,175.25 L482.3,175.25 L483.3,175.35 L484.3,175.54 L485.3,175.82 L486.3,176.19 L487.3,176.64 L488.3,177.19 L489.3,177.82 L490.3,178.52 L491.3,179.3 L492.3,180.15 L493.3,181.07 L494.3,182.05 L495.3,183.08 L496.3,184.17 L497.3,185.3 L498.3,186.46 L499.3,187.66 L500.3,188.89 L501.3,190.14 L502.3,191.41 L503.3,192.69 L504.3,193.97 L505.3,195.25 L506.3,196.52 L507.3,197.79 L508.3,199.04 L509.3,200.28 L510.3,201.49 L511.3,202.67 L512.3,203.83 L513.3,204.95 L514.3,206.04 L515.3,207.09 L516.3,208.1 L517.3,209.07 L518.3,210 L519.3,210.88 L520.3,211.72 L521.3,212.51 L522.3,213.26 L523.3,213.96 L524.3,214.61 L525.3,215.22 L526.3,215.78 L527.3,216.29 L528.3,216.75 L529.3,217.17 L530.3,217.54 L531.3,217.87 L532.3,218.15 L533.3,218.4 L534.3,218.61 L535.3,218.79 L536.3,218.95 L537.3,219.08 L538.3,219.19 L539.3,219.28 L540.3,219.36 L541.3,219.43 L542.3,219.5 L543.3,219.56 L544.3,219.61 L545.3,219.66 L546.3,219.68 L547.3,219.71 L548.3,219.73 L549.3,219.74 L550.3,219.76 L551.3,219.77 L552.3,219.78 L553.3,219.78 L554.3,219.79 L555.3,219.79 L556.3,219.79 L557.3,219.78 L558.3,219.78 L559.3,219.77 L560.3,219.76 L561.3,219.75 L562.3,219.74 L563.3,219.73 L564.3,219.71 L565.3,219.7 L566.3,219.68 L567.3,219.66 L568.3,219.64 L569.3,219.62 L570.3,219.61 L571.3,219.59 L572.3,219.56 L573.3,219.54 L574.3,219.52 L575.3,219.5 L576.3,219.48 L577.3,219.46 L578.3,219.44 L579.3,219.42 L580.3,219.39 L581.3,219.37 L582.3,219.35 L583.3,219.33 L584.3,219.3 L585.3,219.28 L586.3,219.26 L587.3,219.24 L588.3,219.21 L589.3,219.19 L590.3,219.17 L591.3,219.15 L592.3,219.12 L593.3,219.1 L594.3,219.08 L595.3,219.06 L596.3,219.03 L597.3,219.01 L598.3,218.99 L599.3,218.97 L600.3,218.94 L601.3,218.92 L602.3,218.9 L603.3,218.88 L604.3,218.85 L605.3,218.83 L606.3,218.81 L607.3,218.78 L608.3,218.76 L609.3,218.74 L610.3,218.72 L611.3,218.69 L612.3,218.67 L613.3,218.65 L614.3,218.63 L615.3,218.6 L616.3,218.58 L617.3,218.56 L618.3,218.54 L619.3,218.51 L620.3,218.49 L621.3,218.47 L622.3,218.44 L623.3,218.42 L624.3,218.4 L625.3,218.38 L626.3,218.35 L627.3,218.33 L628.3,218.31 L629.3,218.29 L630.3,218.26 L631.3,218.24 L632.3,218.22 L633.3,218.2 L634.3,218.17 L635.3,218.15 L636.3,218.13 L637.3,218.1 L638.3,218.08 L639.3,218.06 L640.3,218.04 L641.3,218.01 L642.3,217.99 L643.3,217.97 L644.3,217.95 L645.3,217.92 L646.3,217.9 L647.3,217.88 L648.3,217.86 L649.3,217.83 L650.3,217.81 L651.3,217.79 L652.3,217.76 L653.3,217.74 L654.3,217.72 L655.3,217.7 L656.3,217.67 L657.3,217.65 L658.3,217.63 L659.3,217.61 L660.3,217.58 L661.3,217.56" fill="none" stroke="#92d8cc" stroke-width="1.1" stroke-linejoin="round"/>
<path d="M412.3,222.97 L413.3,222.92 L414.3,222.87 L415.3,222.8 L416.3,222.73 L417.3,222.66 L418.3,222.57 L419.3,222.48 L420.3,222.37 L421.3,222.25 L422.3,222.13 L423.3,221.99 L424.3,221.83 L425.3,221.67 L426.3,221.48 L427.3,221.29 L428.3,221.07 L429.3,220.84 L430.3,220.59 L431.3,220.31 L432.3,220.02 L433.3,219.71 L434.3,219.37 L435.3,219.01 L436.3,218.63 L437.3,218.22 L438.3,217.79 L439.3,217.33 L440.3,216.85 L441.3,216.34 L442.3,215.8 L443.3,215.24 L444.3,214.65 L445.3,214.04 L446.3,213.4 L447.3,212.74 L448.3,212.06 L449.3,211.35 L450.3,210.62 L451.3,209.87 L452.3,209.11 L453.3,208.33 L454.3,207.53 L455.3,206.73 L456.3,205.91 L457.3,205.09 L458.3,204.26 L459.3,203.44 L460.3,202.61 L461.3,201.8 L462.3,200.99 L463.3,200.19 L464.3,199.41 L465.3,198.65 L466.3,197.91 L467.3,197.2 L468.3,196.52 L469.3,195.87 L470.3,195.25 L471.3,194.68 L472.3,194.14 L473.3,193.66 L474.3,193.21 L475.3,192.82 L476.3,192.48 L477.3,192.2 L478.3,191.97 L479.3,191.79 L480.3,191.68 L481.3,191.62 L482.3,191.62 L483.3,191.68 L484.3,191.81 L485.3,191.99 L486.3,192.24 L487.3,192.55 L488.3,192.91 L489.3,193.33 L490.3,193.8 L491.3,194.32 L492.3,194.89 L493.3,195.5 L494.3,196.15 L495.3,196.84 L496.3,197.56 L497.3,198.31 L498.3,199.09 L499.3,199.89 L500.3,200.71 L501.3,201.54 L502.3,202.39 L503.3,203.24 L504.3,204.09 L505.3,204.95 L506.3,205.8 L507.3,206.64 L508.3,207.47 L509.3,208.3 L510.3,209.1 L511.3,209.89 L512.3,210.66 L513.3,211.4 L514.3,212.13 L515.3,212.82 L516.3,213.5 L517.3,214.14 L518.3,214.75 L519.3,215.33 L520.3,215.88 L521.3,216.4 L522.3,216.89 L523.3,217.34 L524.3,217.76 L525.3,218.14 L526.3,218.49 L527.3,218.81 L528.3,219.08 L529.3,219.33 L530.3,219.53 L531.3,219.71 L532.3,219.85 L533.3,219.97 L534.3,220.05 L535.3,220.12 L536.3,220.16 L537.3,220.19 L538.3,220.21 L539.3,220.22 L540.3,220.23 L541.3,220.23 L542.3,220.23 L543.3,220.24 L544.3,220.24 L545.3,220.24 L546.3,220.23 L547.3,220.21 L548.3,220.2 L549.3,220.19 L550.3,220.18 L551.3,220.17 L552.3,220.16 L553.3,220.16 L554.3,220.15 L555.3,220.13 L556.3,220.12 L557.3,220.11 L558.3,220.1 L559.3,220.09 L560.3,220.07 L561.3,220.06 L562.3,220.04 L563.3,220.02 L564.3,220.01 L565.3,219.99 L566.3,219.97 L567.3,219.95 L568.3,219.93 L569.3,219.92 L570.3,219.9 L571.3,219.88 L572.3,219.86 L573.3,219.84 L574.3,219.82 L575.3,219.8 L576.3,219.77 L577.3,219.75 L578.3,219.73 L579.3,219.71 L580.3,219.69 L581.3,219.67 L582.3,219.65 L583.3,219.63 L584.3,219.61 L585.3,219.58 L586.3,219.56 L587.3,219.54 L588.3,219.52 L589.3,219.5 L590.3,219.48 L591.3,219.46 L592.3,219.44 L593.3,219.41 L594.3,219.39 L595.3,219.37 L596.3,219.35 L597.3,219.33 L598.3,219.31 L599.3,219.29 L600.3,219.26 L601.3,219.24 L602.3,219.22 L603.3,219.2 L604.3,219.18 L605.3,219.16 L606.3,219.14 L607.3,219.11 L608.3,219.09 L609.3,219.07 L610.3,219.05 L611.3,219.03 L612.3,219.01 L613.3,218.99 L614.3,218.96 L615.3,218.94 L616.3,218.92 L617.3,218.9 L618.3,218.88 L619.3,218.86 L620.3,218.84 L621.3,218.82 L622.3,218.79 L623.3,218.77 L624.3,218.75 L625.3,218.73 L626.3,218.71 L627.3,218.69 L628.3,218.67 L629.3,218.64 L630.3,218.62 L631.3,218.6 L632.3,218.58 L633.3,218.56 L634.3,218.54 L635.3,218.52 L636.3,218.49 L637.3,218.47 L638.3,218.45 L639.3,218.43 L640.3,218.41 L641.3,218.39 L642.3,218.37 L643.3,218.34 L644.3,218.32 L645.3,218.3 L646.3,218.28 L647.3,218.26 L648.3,218.24 L649.3,218.22 L650.3,218.19 L651.3,218.17 L652.3,218.15 L653.3,218.13 L654.3,218.11 L655.3,218.09 L656.3,218.07 L657.3,218.04 L658.3,218.02 L659.3,218 L660.3,217.98 L661.3,217.96" fill="none" stroke="#45a0a2" stroke-width="1.1" stroke-linejoin="round"/>
<line x1="481" y1="28.8" x2="481" y2="31" stroke="#1a1a1a" stroke-width="1.9"/>
<line x1="481" y1="30.2" x2="481" y2="39.5" stroke="#1a1a1a" stroke-width="1.9"/>
<line x1="481" y1="43" x2="481" y2="45" stroke="#1a1a1a" stroke-width="1.9"/>
<line x1="481" y1="49.05" x2="481" y2="58.35" stroke="#1a1a1a" stroke-width="1.9"/>
<line x1="481" y1="61.85" x2="481" y2="63.85" stroke="#1a1a1a" stroke-width="1.9"/>
<line x1="481" y1="67.9" x2="481" y2="77.2" stroke="#1a1a1a" stroke-width="1.9"/>
<line x1="481" y1="80.7" x2="481" y2="82.7" stroke="#1a1a1a" stroke-width="1.9"/>
<line x1="481" y1="86.75" x2="481" y2="96.05" stroke="#1a1a1a" stroke-width="1.9"/>
<line x1="481" y1="99.55" x2="481" y2="101.55" stroke="#1a1a1a" stroke-width="1.9"/>
<line x1="481" y1="105.6" x2="481" y2="114.9" stroke="#1a1a1a" stroke-width="1.9"/>
<line x1="481" y1="118.4" x2="481" y2="120.4" stroke="#1a1a1a" stroke-width="1.9"/>
<line x1="481" y1="124.45" x2="481" y2="133.75" stroke="#1a1a1a" stroke-width="1.9"/>
<line x1="481" y1="137.25" x2="481" y2="139.25" stroke="#1a1a1a" stroke-width="1.9"/>
<line x1="481" y1="143.3" x2="481" y2="152.6" stroke="#1a1a1a" stroke-width="1.9"/>
<line x1="481" y1="156.1" x2="481" y2="158.1" stroke="#1a1a1a" stroke-width="1.9"/>
<line x1="481" y1="162.15" x2="481" y2="171.45" stroke="#1a1a1a" stroke-width="1.9"/>
<line x1="481" y1="174.95" x2="481" y2="176.95" stroke="#1a1a1a" stroke-width="1.9"/>
<line x1="481" y1="181" x2="481" y2="189.6" stroke="#1a1a1a" stroke-width="1.9"/>
<path d="M478.1,194.1 L483.9,194.1 L481,205.6 Z" fill="#111"/>
<rect x="411.8" y="22.9" width="250.4" height="201.5" fill="none" stroke="#111" stroke-width="1.8"/>
<line x1="407.8" y1="224.1" x2="411.8" y2="224.1" stroke="#111" stroke-width="1.3"/>
<text x="406.4" y="227.7" font-size="10" font-weight="bold" text-anchor="end" fill="#000" stroke="#000" stroke-width="0.35" stroke-linejoin="round" textLength="5.3" lengthAdjust="spacingAndGlyphs">0</text>
<line x1="407.8" y1="186.32" x2="411.8" y2="186.32" stroke="#111" stroke-width="1.3"/>
<text x="406.4" y="189.92" font-size="10" font-weight="bold" text-anchor="end" fill="#000" stroke="#000" stroke-width="0.35" stroke-linejoin="round" textLength="15.9" lengthAdjust="spacingAndGlyphs">300</text>
<line x1="407.8" y1="148.55" x2="411.8" y2="148.55" stroke="#111" stroke-width="1.3"/>
<text x="406.4" y="152.15" font-size="10" font-weight="bold" text-anchor="end" fill="#000" stroke="#000" stroke-width="0.35" stroke-linejoin="round" textLength="15.9" lengthAdjust="spacingAndGlyphs">600</text>
<line x1="407.8" y1="110.77" x2="411.8" y2="110.77" stroke="#111" stroke-width="1.3"/>
<text x="406.4" y="114.37" font-size="10" font-weight="bold" text-anchor="end" fill="#000" stroke="#000" stroke-width="0.35" stroke-linejoin="round" textLength="15.9" lengthAdjust="spacingAndGlyphs">900</text>
<line x1="407.8" y1="73" x2="411.8" y2="73" stroke="#111" stroke-width="1.3"/>
<text x="406.4" y="76.6" font-size="10" font-weight="bold" text-anchor="end" fill="#000" stroke="#000" stroke-width="0.35" stroke-linejoin="round" textLength="21.2" lengthAdjust="spacingAndGlyphs">1200</text>
<line x1="407.8" y1="35.22" x2="411.8" y2="35.22" stroke="#111" stroke-width="1.3"/>
<text x="406.4" y="38.82" font-size="10" font-weight="bold" text-anchor="end" fill="#000" stroke="#000" stroke-width="0.35" stroke-linejoin="round" textLength="21.2" lengthAdjust="spacingAndGlyphs">1500</text>
<line x1="409.6" y1="205.21" x2="411.8" y2="205.21" stroke="#111" stroke-width="1.1"/>
<line x1="409.6" y1="167.44" x2="411.8" y2="167.44" stroke="#111" stroke-width="1.1"/>
<line x1="409.6" y1="129.66" x2="411.8" y2="129.66" stroke="#111" stroke-width="1.1"/>
<line x1="409.6" y1="91.88" x2="411.8" y2="91.88" stroke="#111" stroke-width="1.1"/>
<line x1="409.6" y1="54.11" x2="411.8" y2="54.11" stroke="#111" stroke-width="1.1"/>
<line x1="411.7" y1="224.4" x2="411.7" y2="228.4" stroke="#111" stroke-width="1.3"/>
<text x="413.1" y="239" font-size="10" font-weight="bold" text-anchor="middle" fill="#000" stroke="#000" stroke-width="0.35" stroke-linejoin="round" textLength="16.4" lengthAdjust="spacingAndGlyphs">290</text>
<line x1="453.5" y1="224.4" x2="453.5" y2="228.4" stroke="#111" stroke-width="1.3"/>
<text x="454.9" y="239" font-size="10" font-weight="bold" text-anchor="middle" fill="#000" stroke="#000" stroke-width="0.35" stroke-linejoin="round" textLength="16.4" lengthAdjust="spacingAndGlyphs">295</text>
<line x1="495.3" y1="224.4" x2="495.3" y2="228.4" stroke="#111" stroke-width="1.3"/>
<text x="496.7" y="239" font-size="10" font-weight="bold" text-anchor="middle" fill="#000" stroke="#000" stroke-width="0.35" stroke-linejoin="round" textLength="16.4" lengthAdjust="spacingAndGlyphs">300</text>
<line x1="537.1" y1="224.4" x2="537.1" y2="228.4" stroke="#111" stroke-width="1.3"/>
<text x="538.5" y="239" font-size="10" font-weight="bold" text-anchor="middle" fill="#000" stroke="#000" stroke-width="0.35" stroke-linejoin="round" textLength="16.4" lengthAdjust="spacingAndGlyphs">305</text>
<line x1="578.9" y1="224.4" x2="578.9" y2="228.4" stroke="#111" stroke-width="1.3"/>
<text x="580.3" y="239" font-size="10" font-weight="bold" text-anchor="middle" fill="#000" stroke="#000" stroke-width="0.35" stroke-linejoin="round" textLength="16.4" lengthAdjust="spacingAndGlyphs">310</text>
<line x1="620.7" y1="224.4" x2="620.7" y2="228.4" stroke="#111" stroke-width="1.3"/>
<text x="622.1" y="239" font-size="10" font-weight="bold" text-anchor="middle" fill="#000" stroke="#000" stroke-width="0.35" stroke-linejoin="round" textLength="16.4" lengthAdjust="spacingAndGlyphs">315</text>
<line x1="662.5" y1="224.4" x2="662.5" y2="228.4" stroke="#111" stroke-width="1.3"/>
<text x="663.9" y="239" font-size="10" font-weight="bold" text-anchor="middle" fill="#000" stroke="#000" stroke-width="0.35" stroke-linejoin="round" textLength="16.4" lengthAdjust="spacingAndGlyphs">320</text>
<line x1="432.6" y1="224.4" x2="432.6" y2="226.6" stroke="#111" stroke-width="1.1"/>
<line x1="474.4" y1="224.4" x2="474.4" y2="226.6" stroke="#111" stroke-width="1.1"/>
<line x1="516.2" y1="224.4" x2="516.2" y2="226.6" stroke="#111" stroke-width="1.1"/>
<line x1="558" y1="224.4" x2="558" y2="226.6" stroke="#111" stroke-width="1.1"/>
<line x1="599.8" y1="224.4" x2="599.8" y2="226.6" stroke="#111" stroke-width="1.1"/>
<line x1="641.6" y1="224.4" x2="641.6" y2="226.6" stroke="#111" stroke-width="1.1"/>
<text x="337.6" y="21.6" font-size="27.8" font-weight="bold" fill="#000" stroke="#000" stroke-width="0.9" stroke-linejoin="round" textLength="18.6" lengthAdjust="spacingAndGlyphs">B</text>
<text x="474.5" y="262.2" font-size="17" font-weight="bold" fill="#000" stroke="#000" stroke-width="0.35" stroke-linejoin="round" textLength="126.8" lengthAdjust="spacingAndGlyphs">Wavelength (nm)</text>
<text transform="translate(378.2 224.8) rotate(-90)" font-size="17.5" font-weight="bold" stroke="#000" stroke-width="0.4" textLength="204.2" lengthAdjust="spacingAndGlyphs">Flourescence intensity (a.u.)</text>
<text x="519.9" y="81" font-size="11.5" font-weight="bold" fill="#000" stroke="#000" stroke-width="0.35" stroke-linejoin="round" textLength="112.8" lengthAdjust="spacingAndGlyphs">Flourscence quenching</text>
<text x="508.9" y="100.2" font-size="10.5" font-weight="bold" fill="#000" stroke="#000" stroke-width="0.35" stroke-linejoin="round" textLength="133.1" lengthAdjust="spacingAndGlyphs">Increasing CDs concentration</text>
<text x="561.9" y="121.9" font-size="10" font-weight="bold" fill="#000" stroke="#000" stroke-width="0.35" stroke-linejoin="round" textLength="39" lengthAdjust="spacingAndGlyphs">0 mg/mL</text>
<text x="560.3" y="169.3" font-size="10" font-weight="bold" fill="#000" stroke="#000" stroke-width="0.35" stroke-linejoin="round" textLength="42.5" lengthAdjust="spacingAndGlyphs">10 mg/mL</text>
<line x1="578.5" y1="125.9" x2="578.5" y2="158" stroke="#111" stroke-width="0.9"/>
<path d="M576.6,157 L580.4,157 L578.5,163.2 Z" fill="#111"/>
<rect x="50.8" y="275.5" width="257.2" height="201.1" fill="url(#gC)"/>
<path d="M51,346.56 L51.25,348.01 L51.5,347.11 L51.75,344.26 L52,343.86 L52.25,343.73 L52.5,345.34 L52.75,343.43 L53,345.84 L53.25,345.27 L53.5,348.03 L53.75,346.2 L54,342.06 L54.25,342.65 L54.5,341.67 L54.75,343.85 L55,343.07 L55.25,340.13 L55.5,343.21 L55.75,340.93 L56,341.39 L56.25,342.96 L56.5,339.68 L56.75,340.92 L57,341.75 L57.25,342.84 L57.5,339.49 L57.75,337.75 L58,336.86 L58.25,340.56 L58.5,340.9 L58.75,339.64 L59,338.74 L59.25,339.9 L59.5,337.61 L59.75,335.06 L60,338.03 L60.25,338.73 L60.5,336.05 L60.75,333.76 L61,334.29 L61.25,333.41 L61.5,333.52 L61.75,334.69 L62,332.68 L62.25,335.01 L62.5,336.23 L62.75,332.92 L63,333.07 L63.25,336.12 L63.5,331.45 L63.75,331.47 L64,333.19 L64.25,329.62 L64.5,331.4 L64.75,334.42 L65,331.69 L65.25,332.32 L65.5,333.32 L65.75,332.9 L66,329.9 L66.25,327.98 L66.5,327.45 L66.75,327.98 L67,328.41 L67.25,326.16 L67.5,326.39 L67.75,325.6 L68,328.59 L68.25,326.14 L68.5,326.37 L68.75,328.72 L69,326.08 L69.25,323.42 L69.5,324.39 L69.75,326.67 L70,321.47 L70.25,323.81 L70.5,323.39 L70.75,322.61 L71,323.93 L71.25,319.77 L71.5,318.55 L71.75,320.01 L72,318.13 L72.25,320.26 L72.5,319.8 L72.75,318.88 L73,314.65 L73.25,314.38 L73.5,311.99 L73.75,312.63 L74,316.07 L74.25,315.23 L74.5,314.61 L74.75,309.46 L75,308.59 L75.25,310.46 L75.5,311.07 L75.75,309.22 L76,305.03 L76.25,309.34 L76.5,307.62 L76.75,303.36 L77,303.55 L77.25,306.73 L77.5,302.44 L77.75,303.69 L78,299.21 L78.25,303.3 L78.5,297.81 L78.75,302.29 L79,297.61 L79.25,294.69 L79.5,300.09 L79.75,296.6 L80,295.34 L80.25,297.18 L80.5,292.89 L80.75,292.18 L81,291.66 L81.25,290.22 L81.5,291.03 L81.75,291.9 L82,290.26 L82.25,290.19 L82.5,289.81 L82.75,288.65 L83,285.27 L83.25,285.81 L83.5,288.87 L83.75,285.75 L84,286.73 L84.25,283.3 L84.5,283.74 L84.75,286.69 L85,284.87 L85.25,286.79 L85.5,284.48 L85.75,283.52 L86,282.86 L86.25,282.81 L86.5,284.08 L86.75,285.53 L87,282.89 L87.25,284.65 L87.5,279.85 L87.75,279.49 L88,279.48 L88.25,284.2 L88.5,280.11 L88.75,283.54 L89,285.14 L89.25,280.94 L89.5,282.33 L89.75,286.48 L90,281.33 L90.25,283.98 L90.5,282.25 L90.75,286.6 L91,285.4 L91.25,282.34 L91.5,286.75 L91.75,283.58 L92,288.78 L92.25,284.83 L92.5,284.92 L92.75,286.93 L93,288.44 L93.25,291.53 L93.5,287.75 L93.75,291.01 L94,288.47 L94.25,292.88 L94.5,289.5 L94.75,293.67 L95,290.72 L95.25,291.19 L95.5,294.24 L95.75,295.45 L96,294.22 L96.25,296.44 L96.5,294.38 L96.75,294.59 L97,296.82 L97.25,300.21 L97.5,299.16 L97.75,298.47 L98,298.25 L98.25,302.41 L98.5,299.63 L98.75,304.87 L99,304.76 L99.25,303.36 L99.5,303.34 L99.75,305.76 L100,304.23 L100.25,307.06 L100.5,305.79 L100.75,304.22 L101,304.89 L101.25,306.57 L101.5,306.07 L101.75,311.38 L102,308.34 L102.25,308.95 L102.5,308.66 L102.75,309.84 L103,314.64 L103.25,310.79 L103.5,311.72 L103.75,310.4 L104,313.76 L104.25,312.65 L104.5,312.01 L104.75,313.04 L105,312.32 L105.25,315.35 L105.5,317.53 L105.75,319.01 L106,319.3 L106.25,317.88 L106.5,321.87 L106.75,320.83 L107,317.32 L107.25,322.77 L107.5,322.32 L107.75,319.31 L108,321.9 L108.25,324.11 L108.5,323.27 L108.75,324.28 L109,321.55 L109.25,321.96 L109.5,322.22 L109.75,325.26 L110,326.05 L110.25,325.65 L110.5,327.83 L110.75,326.53 L111,327.81 L111.25,328.63 L111.5,325.22 L111.75,329.33 L112,329.75 L112.25,328.71 L112.5,328.98 L112.75,330.97 L113,330.6 L113.25,328.14 L113.5,331.85 L113.75,331.32 L114,328.65 L114.25,332.43 L114.5,332.77 L114.75,332.19 L115,332.23 L115.25,334.94 L115.5,335.72 L115.75,330.64 L116,335.44 L116.25,333.66 L116.5,332.62 L116.75,332.93 L117,332.84 L117.25,337.65 L117.5,337.19 L117.75,337.85 L118,334.49 L118.25,336.16 L118.5,333.79 L118.75,336.54 L119,335.09 L119.25,336.33 L119.5,334.87 L119.75,339.75 L120,340.49 L120.25,340.61 L120.5,337.95 L120.75,341.65 L121,338.39 L121.25,337.74 L121.5,337.47 L121.75,338.73 L122,338.77 L122.25,340.45 L122.5,339.93 L122.75,342.96 L123,341.81 L123.25,343.73 L123.5,343.18 L123.75,343.06 L124,343.39 L124.25,340.68 L124.5,344.79 L124.75,342.55 L125,341.83 L125.25,345.72 L125.5,344.21 L125.75,343.89 L126,342 L126.25,342.44 L126.5,344.22 L126.75,346.63 L127,344.39 L127.25,343.22 L127.5,344.23 L127.75,343.89 L128,345.87 L128.25,347.04 L128.5,345.45 L128.75,345.46 L129,343.98 L129.25,349.02 L129.5,346.74 L129.75,348.86 L130,345.9 L130.25,346.79 L130.5,349.94 L130.75,350.4 L131,345.43 L131.25,350.21 L131.5,348.92 L131.75,347.92 L132,350.41 L132.25,351.38 L132.5,346.99 L132.75,349.37 L133,351.77 L133.25,350.4 L133.5,349.59 L133.75,347.57 L134,348.77 L134.25,351.13 L134.5,348.58 L134.75,351.44 L135,348.87 L135.25,351.21 L135.5,350.67 L135.75,352.16 L136,350.58 L136.25,354.2 L136.5,353.98 L136.75,350.75 L137,354.72 L137.25,351.13 L137.5,352.65 L137.75,352.41 L138,353.87 L138.25,351.25 L138.5,352.49 L138.75,354.46 L139,355.22 L139.25,353.86 L139.5,356.45 L139.75,355.83 L140,352.89 L140.25,353.43 L140.5,354.64 L140.75,353.39 L141,355.84 L141.25,353.31 L141.5,353.82 L141.75,353.61 L142,353.34 L142.25,357.83 L142.5,357.13 L142.75,358.31 L143,354.62 L143.25,358.1 L143.5,357.39 L143.75,356.05 L144,354.55 L144.25,355.86 L144.5,359.48 L144.75,359.67 L145,356.7 L145.25,359.23 L145.5,355.42 L145.75,357.22 L146,356.44 L146.25,360.9 L146.5,357.84 L146.75,360.27 L147,356.2 L147.25,360.86 L147.5,360.11 L147.75,358.16 L148,361.45 L148.25,358.04 L148.5,358.45 L148.75,356.99 L149,361.76 L149.25,362.81 L149.5,358.55 L149.75,362.35 L150,359.57 L150.25,359.92 L150.5,362.57 L150.75,362.06 L151,362.28 L151.25,361.31 L151.5,359.98 L151.75,362.44 L152,359.6 L152.25,359.98 L152.5,359.02 L152.75,360.61 L153,363.55 L153.25,360.55 L153.5,359.82 L153.75,363.03 L154,360.75 L154.25,362.81 L154.5,363.57 L154.75,363.27 L155,364.28 L155.25,363.01 L155.5,363.99 L155.75,361.64 L156,361.28 L156.25,363.53 L156.5,362.73 L156.75,363.41 L157,365.03 L157.25,366.06 L157.5,363.58 L157.75,365.53 L158,361.64 L158.25,362.14 L158.5,366.52 L158.75,366.42 L159,366.21 L159.25,363.29 L159.5,366.83 L159.75,365.19 L160,363.41 L160.25,363.14 L160.5,363.82 L160.75,365.9 L161,362.82 L161.25,366.25 L161.5,364.53 L161.75,367.04 L162,363.51 L162.25,365.26 L162.5,366.58 L162.75,364.32 L163,365.65 L163.25,365.24 L163.5,365.37 L163.75,365.69 L164,368.31 L164.25,365.93 L164.5,367.84 L164.75,364.36 L165,366.53 L165.25,366.54 L165.5,366.91 L165.75,364.81 L166,368 L166.25,365.37 L166.5,366.86 L166.75,365.85 L167,367.79 L167.25,365.86 L167.5,369.38 L167.75,366.48 L168,370.25 L168.25,368.08 L168.5,370.35 L168.75,370.33 L169,370.03 L169.25,369.93 L169.5,368.15 L169.75,370.33 L170,367.42 L170.25,368.98 L170.5,367.13 L170.75,370.17 L171,366.9 L171.25,370.94 L171.5,370.98 L171.75,369.9 L172,370.12 L172.25,369.19 L172.5,369.3 L172.75,369.48 L173,367.5 L173.25,369.86 L173.5,371.28 L173.75,369.87 L174,370.02 L174.25,368.41 L174.5,368.31 L174.75,370.45 L175,371.13 L175.25,371.68 L175.5,370.67 L175.75,370.71 L176,372.96 L176.25,372.58 L176.5,372.05 L176.75,369.5 L177,371.03 L177.25,373.16 L177.5,372.62 L177.75,369.17 L178,372.6 L178.25,373.36 L178.5,373.03 L178.75,371.58 L179,370.23 L179.25,371.74 L179.5,369.54 L179.75,370.21 L180,372.79 L180.25,370.38 L180.5,370.19 L180.75,372.79 L181,374 L181.25,372.65 L181.5,370.41 L181.75,373.02 L182,373.9 L182.25,374.9 L182.5,371.92 L182.75,372.38 L183,374.32 L183.25,374.34 L183.5,373.53 L183.75,373.34 L184,371.77 L184.25,370.8 L184.5,373.68 L184.75,373.24 L185,371.47 L185.25,374.3 L185.5,370.97 L185.75,371.54 L186,372.17 L186.25,373.99 L186.5,374.22 L186.75,371.93 L187,372.52 L187.25,371.87 L187.5,375.66 L187.75,373.47 L188,371.65 L188.25,374.36 L188.5,374.83 L188.75,376.29 L189,373.04 L189.25,372.12 L189.5,373.92 L189.75,372.32 L190,372.16 L190.25,376.68 L190.5,373.18 L190.75,374.72 L191,376.25 L191.25,373.9 L191.5,372.71 L191.75,376.29 L192,372.63 L192.25,376.23 L192.5,376.27 L192.75,373.86 L193,373.51 L193.25,374.51 L193.5,376.29 L193.75,376.43 L194,375.73 L194.25,376.91 L194.5,374.47 L194.75,377.87 L195,378.16 L195.25,374.63 L195.5,376.99 L195.75,377.06 L196,377.76 L196.25,374.76 L196.5,376.68 L196.75,376.91 L197,376.03 L197.25,377.17 L197.5,375.99 L197.75,376.68 L198,375.03 L198.25,374.45 L198.5,374.23 L198.75,374.7 L199,375.89 L199.25,373.66 L199.5,377.65 L199.75,377.73 L200,374.78 L200.25,376.25 L200.5,378.47 L200.75,374.95 L201,379.03 L201.25,375.25 L201.5,374.68 L201.75,378.87 L202,377.91 L202.25,377.95 L202.5,375.48 L202.75,378.65 L203,376.63 L203.25,375.27 L203.5,376.56 L203.75,377.02 L204,379.89 L204.25,379.41 L204.5,375.57 L204.75,377.54 L205,377.17 L205.25,378.12 L205.5,379.71 L205.75,379.55 L206,375.73 L206.25,379.38 L206.5,375.85 L206.75,378.2 L207,376.79 L207.25,377.61 L207.5,377.25 L207.75,377.41 L208,379.42 L208.25,376.68 L208.5,376.59 L208.75,379.54 L209,379.26 L209.25,378.24 L209.5,380.59 L209.75,381.27 L210,377.46 L210.25,380.78 L210.5,378.36 L210.75,377.72 L211,379.17 L211.25,380.25 L211.5,378.39 L211.75,377.52 L212,379.95 L212.25,377.68 L212.5,380.56 L212.75,377.55 L213,381.16 L213.25,377.94 L213.5,380.39 L213.75,377.85 L214,378.32 L214.25,379.65 L214.5,378.78 L214.75,381.86 L215,377.79 L215.25,377.83 L215.5,382.01 L215.75,380.87 L216,378.38 L216.25,378 L216.5,379.17 L216.75,379.44 L217,380.86 L217.25,380.61 L217.5,378.34 L217.75,379.61 L218,382 L218.25,380.47 L218.5,379.78 L218.75,381.23 L219,381.5 L219.25,381.9 L219.5,380.95 L219.75,379.44 L220,378.46 L220.25,381.7 L220.5,381.02 L220.75,380.08 L221,381.04 L221.25,381.32 L221.5,379.05 L221.75,381.87 L222,380.55 L222.25,378.46 L222.5,379.07 L222.75,382.74 L223,378.85 L223.25,380.93 L223.5,380.83 L223.75,382.34 L224,380.41 L224.25,379.5 L224.5,380.38 L224.75,379.15 L225,380.27 L225.25,379.92 L225.5,378.73 L225.75,380.66 L226,380.37 L226.25,379.8 L226.5,383.17 L226.75,379.83 L227,380.66 L227.25,379.47 L227.5,382.67 L227.75,381.11 L228,380 L228.25,380.62 L228.5,382.82 L228.75,381.21 L229,381.61 L229.25,382.97 L229.5,383.08 L229.75,380.9 L230,381.16 L230.25,379.21 L230.5,380.54 L230.75,380.66 L231,381.28 L231.25,382.38 L231.5,383.66 L231.75,379.63 L232,383.61 L232.25,380.07 L232.5,382.61 L232.75,379.52 L233,382.55 L233.25,379.99 L233.5,380.63 L233.75,381.18 L234,383.8 L234.25,380.4 L234.5,382.48 L234.75,382.78 L235,383.37 L235.25,380.64 L235.5,382.22 L235.75,381.81 L236,382.38 L236.25,380.91 L236.5,382.14 L236.75,382.04 L237,382.18 L237.25,382.43 L237.5,379.98 L237.75,382.15 L238,383.09 L238.25,381.76 L238.5,384.5 L238.75,383.02 L239,380.22 L239.25,383.28 L239.5,381.67 L239.75,382.53 L240,385 L240.25,383.54 L240.5,381.8 L240.75,381.95 L241,382.71 L241.25,381.28 L241.5,382.28 L241.75,384.18 L242,384.21 L242.25,382.73 L242.5,382.76 L242.75,383.47 L243,381.99 L243.25,381.87 L243.5,383.44 L243.75,380.71 L244,384.65 L244.25,380.8 L244.5,380.62 L244.75,384.88 L245,383.68 L245.25,384.87 L245.5,383.53 L245.75,383.92 L246,383.87 L246.25,383.83 L246.5,384.29 L246.75,381.1 L247,384.39 L247.25,383.86 L247.5,384.65 L247.75,383.47 L248,382.28 L248.25,382.38 L248.5,383.9 L248.75,381.2 L249,381.15 L249.25,384.74 L249.5,385.26 L249.75,381.1 L250,383.79 L250.25,385.61 L250.5,383 L250.75,384.09 L251,381.27 L251.25,381.17 L251.5,381.74 L251.75,381.6 L252,381.21 L252.25,384.56 L252.5,384.64 L252.75,381.5 L253,384.59 L253.25,384.68 L253.5,384.24 L253.75,383.48 L254,382.55 L254.25,385.05 L254.5,381.48 L254.75,385.2 L255,382.89 L255.25,382.24 L255.5,383.73 L255.75,383.2 L256,383.55 L256.25,382.21 L256.5,383.24 L256.75,384.49 L257,383.38 L257.25,385.98 L257.5,384.26 L257.75,381.94 L258,384.92 L258.25,383.23 L258.5,386.22 L258.75,384.51 L259,383.73 L259.25,383.51 L259.5,384.56 L259.75,385.53 L260,381.83 L260.25,383.79 L260.5,385.62 L260.75,382.08 L261,385.64 L261.25,384.55 L261.5,385.86 L261.75,385.11 L262,383.57 L262.25,384.54 L262.5,382.93 L262.75,386.32 L263,384.84 L263.25,384.2 L263.5,383.25 L263.75,385.74 L264,382.52 L264.25,385.69 L264.5,384.82 L264.75,386.24 L265,384.38 L265.25,383.07 L265.5,383.05 L265.75,383.91 L266,384.11 L266.25,382.39 L266.5,386.88 L266.75,382.8 L267,385.95 L267.25,385.09 L267.5,384.78 L267.75,382.53 L268,386.38 L268.25,385.02 L268.5,386.01 L268.75,386.8 L269,386.23 L269.25,383.25 L269.5,383.42 L269.75,382.9 L270,385.09 L270.25,384.66 L270.5,386.75 L270.75,385.33 L271,383.15 L271.25,383.8 L271.5,385.58 L271.75,385.73 L272,384.73 L272.25,387.12 L272.5,383.27 L272.75,383.89 L273,386.88 L273.25,387.14 L273.5,386.38 L273.75,385.76 L274,383.06 L274.25,386.29 L274.5,385.94 L274.75,385.57 L275,383.36 L275.25,384.07 L275.5,385.11 L275.75,384.02 L276,386.33 L276.25,386.25 L276.5,383.14 L276.75,384 L277,386.98 L277.25,383.66 L277.5,383.48 L277.75,386.92 L278,385.15 L278.25,386.86 L278.5,385.99 L278.75,384.14 L279,386.41 L279.25,383.82 L279.5,384.4 L279.75,383.91 L280,387.06 L280.25,383.99 L280.5,384.7 L280.75,383.78 L281,383.54 L281.25,386.35 L281.5,385.5 L281.75,384.51 L282,385.01 L282.25,387.93 L282.5,383.82 L282.75,387.5 L283,386.74 L283.25,388.67 L283.5,387.14 L283.75,383.52 L284,387.28 L284.25,384.34 L284.5,387.68 L284.75,386.14 L285,384.36 L285.25,386.81 L285.5,383.93 L285.75,386.37 L286,384.86 L286.25,386.42 L286.5,387.35 L286.75,384.58 L287,387.02 L287.25,386.99 L287.5,387.41 L287.75,387.57 L288,385.98 L288.25,387.91 L288.5,387.75 L288.75,384.63 L289,385.47 L289.25,385.51 L289.5,383.85 L289.75,385.88 L290,384.41 L290.25,387.61 L290.5,385.36 L290.75,385.65 L291,384.2 L291.25,388.3 L291.5,386.3 L291.75,386.48 L292,388.41 L292.25,384.83 L292.5,385.16 L292.75,384.17 L293,387.24 L293.25,384.15 L293.5,386.71 L293.75,387.3 L294,388.08 L294.25,384.33 L294.5,386.4 L294.75,385.43 L295,386.03 L295.25,386.89 L295.5,384.88 L295.75,387.63 L296,388.01 L296.25,386.03 L296.5,388.1 L296.75,386.09 L297,387.84 L297.25,385.41 L297.5,386.32 L297.75,388.01 L298,388.08 L298.25,384.62 L298.5,388.76 L298.75,385.54 L299,387.31 L299.25,386.86 L299.5,386.43 L299.75,384.56 L300,388.91 L300.25,388.77 L300.5,388.21 L300.75,389.18 L301,387.47 L301.25,387.65 L301.5,387.05 L301.75,387.43 L302,386.98 L302.25,388.96 L302.5,386.03 L302.75,385.21 L303,389.03 L303.25,385.91 L303.5,387.14 L303.75,385.28 L304,386.07 L304.25,386.06 L304.5,385.17 L304.75,388.61 L305,387.39 L305.25,385.73 L305.5,386.93 L305.75,387.63 L306,386.27 L306.25,385.89 L306.5,386.64 L306.75,384.96 L307,388.85" fill="none" stroke="#6c705a" stroke-width="1.15" stroke-linejoin="round"/>
<path d="M51,396.51 L51.25,394.81 L51.5,394.64 L51.75,393.67 L52,397.32 L52.25,392.7 L52.5,394.54 L52.75,392.51 L53,396.94 L53.25,392.32 L53.5,393.19 L53.75,394.42 L54,395.33 L54.25,394.66 L54.5,394.57 L54.75,394.49 L55,394.99 L55.25,395.25 L55.5,393.74 L55.75,392.04 L56,392.23 L56.25,393.18 L56.5,391.98 L56.75,390.9 L57,392.18 L57.25,390.1 L57.5,389.83 L57.75,391.85 L58,390 L58.25,388 L58.5,387.53 L58.75,389.74 L59,391.39 L59.25,390.71 L59.5,391.11 L59.75,387.85 L60,384.27 L60.25,388.1 L60.5,389.84 L60.75,387.41 L61,387.02 L61.25,387.7 L61.5,385.55 L61.75,385.23 L62,386.81 L62.25,383.22 L62.5,384.66 L62.75,385.36 L63,387.32 L63.25,384.01 L63.5,386.92 L63.75,383.94 L64,381.57 L64.25,385.94 L64.5,382.94 L64.75,384.86 L65,384.13 L65.25,384.22 L65.5,379.65 L65.75,381.42 L66,379.21 L66.25,381.49 L66.5,379.56 L66.75,381.19 L67,379.27 L67.25,378.34 L67.5,376.24 L67.75,380.88 L68,379.54 L68.25,378.21 L68.5,376.52 L68.75,377.78 L69,377.72 L69.25,374.69 L69.5,378.19 L69.75,373.92 L70,376.13 L70.25,376.36 L70.5,371.8 L70.75,376.66 L71,376 L71.25,372.37 L71.5,371.61 L71.75,374.19 L72,373.05 L72.25,370.3 L72.5,373.17 L72.75,371.96 L73,369.91 L73.25,374.27 L73.5,370.14 L73.75,372.87 L74,371.21 L74.25,370.2 L74.5,368.29 L74.75,370.88 L75,368 L75.25,368.73 L75.5,366.88 L75.75,367.25 L76,370.72 L76.25,367.82 L76.5,367.3 L76.75,366.14 L77,364.04 L77.25,365.13 L77.5,363.78 L77.75,363.15 L78,366.09 L78.25,362.55 L78.5,361.82 L78.75,366.2 L79,363.39 L79.25,365.37 L79.5,362.18 L79.75,362.02 L80,360.63 L80.25,362.23 L80.5,361.59 L80.75,362.93 L81,363.88 L81.25,360.17 L81.5,361.44 L81.75,362.86 L82,360.27 L82.25,358.43 L82.5,358.9 L82.75,359.83 L83,358.42 L83.25,356.78 L83.5,357.47 L83.75,355.85 L84,357.26 L84.25,356.61 L84.5,356.48 L84.75,355.05 L85,355.86 L85.25,359.76 L85.5,359.39 L85.75,354.27 L86,353.41 L86.25,357.4 L86.5,355.59 L86.75,357.34 L87,358.19 L87.25,356.65 L87.5,353.17 L87.75,357.17 L88,351.48 L88.25,353.29 L88.5,354.19 L88.75,352.43 L89,356.37 L89.25,357.71 L89.5,356.92 L89.75,355.09 L90,354.22 L90.25,357.82 L90.5,353.77 L90.75,358.08 L91,352.84 L91.25,353.35 L91.5,354.1 L91.75,357.76 L92,357.51 L92.25,357.98 L92.5,355.06 L92.75,359.57 L93,359.61 L93.25,358.52 L93.5,357.97 L93.75,354.39 L94,357.03 L94.25,360.49 L94.5,360.21 L94.75,359.43 L95,356.76 L95.25,361.58 L95.5,359.03 L95.75,356.1 L96,358.61 L96.25,358.18 L96.5,360.97 L96.75,358.16 L97,360.19 L97.25,363.14 L97.5,359.27 L97.75,358.49 L98,359.97 L98.25,361.59 L98.5,359.4 L98.75,362.4 L99,363.72 L99.25,359.79 L99.5,361.61 L99.75,359.95 L100,361.07 L100.25,362.92 L100.5,362.39 L100.75,362.88 L101,360.33 L101.25,367.38 L101.5,361.87 L101.75,367.79 L102,362.53 L102.25,364.84 L102.5,365.87 L102.75,368.4 L103,366.8 L103.25,367.21 L103.5,364.9 L103.75,363.78 L104,369.12 L104.25,365.28 L104.5,369.66 L104.75,365.68 L105,370.06 L105.25,367.18 L105.5,370.53 L105.75,367.95 L106,368.21 L106.25,367.09 L106.5,369.94 L106.75,371.76 L107,372.55 L107.25,370.27 L107.5,368.45 L107.75,371.32 L108,372.23 L108.25,370.98 L108.5,368.2 L108.75,371.48 L109,373.95 L109.25,374.45 L109.5,374.38 L109.75,371.56 L110,373.23 L110.25,372.42 L110.5,374.67 L110.75,376.37 L111,372.94 L111.25,374.82 L111.5,372.85 L111.75,373.88 L112,378.04 L112.25,377.66 L112.5,378.49 L112.75,377.84 L113,377.28 L113.25,375.27 L113.5,379.44 L113.75,377.87 L114,376.3 L114.25,374.68 L114.5,378.8 L114.75,375.53 L115,377.48 L115.25,377.99 L115.5,379.12 L115.75,376.7 L116,381.53 L116.25,377.18 L116.5,378.26 L116.75,380.14 L117,380.13 L117.25,378.83 L117.5,378.41 L117.75,381.44 L118,380.62 L118.25,381.05 L118.5,381.93 L118.75,383.38 L119,384.98 L119.25,380.04 L119.5,381.97 L119.75,385.5 L120,384.67 L120.25,384.91 L120.5,382.03 L120.75,380.99 L121,382.37 L121.25,385.46 L121.5,386.73 L121.75,386.87 L122,387.36 L122.25,383.3 L122.5,384.53 L122.75,386.7 L123,383.74 L123.25,387.48 L123.5,388.07 L123.75,387.18 L124,387.1 L124.25,384.85 L124.5,388.27 L124.75,385.76 L125,389.64 L125.25,385 L125.5,385.98 L125.75,386.62 L126,387.44 L126.25,388.17 L126.5,391.17 L126.75,390.34 L127,392.89 L127.25,388.83 L127.5,389.93 L127.75,392.41 L128,388.58 L128.25,391.56 L128.5,390.64 L128.75,392.9 L129,393.26 L129.25,389.04 L129.5,390.02 L129.75,392.47 L130,390.17 L130.25,392.02 L130.5,391.78 L130.75,389.87 L131,391.56 L131.25,392.77 L131.5,390.69 L131.75,394.33 L132,392.34 L132.25,392.47 L132.5,394.13 L132.75,397.8 L133,394.69 L133.25,396.58 L133.5,395.47 L133.75,394.19 L134,396.73 L134.25,397.7 L134.5,394.43 L134.75,396.99 L135,396.6 L135.25,396.33 L135.5,393.86 L135.75,395.47 L136,396.5 L136.25,395.4 L136.5,396.15 L136.75,394.49 L137,397.07 L137.25,397.86 L137.5,395.89 L137.75,396.78 L138,399.23 L138.25,400.53 L138.5,400.61 L138.75,396.28 L139,399.12 L139.25,398.09 L139.5,398.64 L139.75,396.88 L140,401.47 L140.25,397.77 L140.5,397.88 L140.75,400.91 L141,399.45 L141.25,400.68 L141.5,401.07 L141.75,401.67 L142,401.12 L142.25,402.37 L142.5,400.04 L142.75,399.38 L143,403.14 L143.25,403.53 L143.5,400.53 L143.75,402.36 L144,402.66 L144.25,399.53 L144.5,399.6 L144.75,401.25 L145,402.76 L145.25,402.12 L145.5,404.73 L145.75,405.19 L146,403.36 L146.25,402 L146.5,401.23 L146.75,404.53 L147,404.9 L147.25,403.59 L147.5,403.79 L147.75,404.15 L148,405 L148.25,404.96 L148.5,405.41 L148.75,405.51 L149,403.97 L149.25,404.45 L149.5,401.87 L149.75,404.42 L150,406.08 L150.25,407.3 L150.5,406.2 L150.75,402.56 L151,402.83 L151.25,405.49 L151.5,407.57 L151.75,403.61 L152,406.74 L152.25,403.28 L152.5,407.15 L152.75,408.3 L153,406.63 L153.25,407.57 L153.5,405.23 L153.75,404.22 L154,404.1 L154.25,405.92 L154.5,404.27 L154.75,406.16 L155,408.98 L155.25,405.4 L155.5,405.69 L155.75,405.63 L156,408.41 L156.25,406.15 L156.5,405.83 L156.75,405.62 L157,409.33 L157.25,408.82 L157.5,406.53 L157.75,407.65 L158,406.09 L158.25,408.39 L158.5,408.39 L158.75,406.6 L159,407.45 L159.25,410.08 L159.5,410.17 L159.75,407.03 L160,406.54 L160.25,406.1 L160.5,406.9 L160.75,406.71 L161,409.73 L161.25,408.07 L161.5,410.03 L161.75,412.27 L162,407.73 L162.25,410.41 L162.5,409.2 L162.75,408.88 L163,406.86 L163.25,408.41 L163.5,407.47 L163.75,407.59 L164,407.85 L164.25,407.73 L164.5,409.55 L164.75,408.85 L165,411.72 L165.25,408.23 L165.5,411.62 L165.75,408.59 L166,408.59 L166.25,407.51 L166.5,409.38 L166.75,408.94 L167,410.85 L167.25,410.16 L167.5,410.93 L167.75,411.89 L168,409.55 L168.25,409.69 L168.5,409.57 L168.75,409.72 L169,413.58 L169.25,410.8 L169.5,409.08 L169.75,409.74 L170,408.89 L170.25,412.16 L170.5,413.26 L170.75,411.52 L171,411.33 L171.25,409.73 L171.5,408.22 L171.75,412.52 L172,411.27 L172.25,409.54 L172.5,412.13 L172.75,412.03 L173,411.15 L173.25,411.96 L173.5,411.77 L173.75,409.8 L174,410.07 L174.25,411.16 L174.5,411.45 L174.75,410.01 L175,413.57 L175.25,411.62 L175.5,413.11 L175.75,409.98 L176,411.47 L176.25,413.34 L176.5,414.23 L176.75,411.24 L177,413.45 L177.25,410.22 L177.5,410.02 L177.75,413.54 L178,411.86 L178.25,411.62 L178.5,413.16 L178.75,412.14 L179,413.58 L179.25,413.24 L179.5,412.5 L179.75,411.81 L180,411.71 L180.25,411.07 L180.5,410.42 L180.75,413.73 L181,411.83 L181.25,414.4 L181.5,413.48 L181.75,411.39 L182,414.35 L182.25,412.11 L182.5,412.73 L182.75,414.11 L183,412.66 L183.25,414.7 L183.5,412.66 L183.75,415.36 L184,415.65 L184.25,412.76 L184.5,412.6 L184.75,414.75 L185,413.67 L185.25,415.57 L185.5,411.33 L185.75,413.52 L186,415.43 L186.25,413.69 L186.5,413.58 L186.75,413.98 L187,414.81 L187.25,413.38 L187.5,414.97 L187.75,415.46 L188,412.33 L188.25,412.19 L188.5,412.36 L188.75,415.6 L189,412.25 L189.25,415.5 L189.5,412.36 L189.75,414.18 L190,417.07 L190.25,416.51 L190.5,413.94 L190.75,412.4 L191,413.76 L191.25,414 L191.5,416.72 L191.75,415.08 L192,412.9 L192.25,416.92 L192.5,416.92 L192.75,413.8 L193,415.48 L193.25,415.18 L193.5,415.81 L193.75,416.92 L194,417.55 L194.25,413.39 L194.5,415.78 L194.75,415.99 L195,414.64 L195.25,414.78 L195.5,417.3 L195.75,415.67 L196,415.68 L196.25,413.86 L196.5,416.96 L196.75,417.86 L197,416.62 L197.25,418.25 L197.5,417.71 L197.75,417.15 L198,415.38 L198.25,418.05 L198.5,418.48 L198.75,414.6 L199,417.94 L199.25,416.21 L199.5,415.5 L199.75,417.62 L200,414.64 L200.25,414.62 L200.5,415.88 L200.75,417.31 L201,417.26 L201.25,419 L201.5,418.7 L201.75,418.55 L202,416.46 L202.25,416.63 L202.5,415.93 L202.75,415.35 L203,418.44 L203.25,418.25 L203.5,419.01 L203.75,419.51 L204,419.63 L204.25,416.57 L204.5,418.82 L204.75,419.72 L205,417.63 L205.25,418.22 L205.5,415.82 L205.75,416.74 L206,419.53 L206.25,420.66 L206.5,418.43 L206.75,417.25 L207,418.78 L207.25,417.28 L207.5,416.91 L207.75,416.62 L208,417.23 L208.25,418.51 L208.5,418.51 L208.75,418.76 L209,416.12 L209.25,416.46 L209.5,416.66 L209.75,417.75 L210,419.26 L210.25,416.94 L210.5,417.75 L210.75,420.36 L211,416.94 L211.25,420.45 L211.5,418.66 L211.75,416.89 L212,417.14 L212.25,418.8 L212.5,417.36 L212.75,417.42 L213,417.62 L213.25,418.9 L213.5,416.61 L213.75,418.89 L214,419.31 L214.25,417.72 L214.5,417.39 L214.75,416.83 L215,419.17 L215.25,420.97 L215.5,419.51 L215.75,419.62 L216,420.19 L216.25,418.01 L216.5,422.34 L216.75,419.83 L217,420.79 L217.25,420.79 L217.5,422.04 L217.75,421.46 L218,418.95 L218.25,418.21 L218.5,420.29 L218.75,418.73 L219,418.06 L219.25,418.71 L219.5,421.89 L219.75,419.46 L220,420.9 L220.25,420.79 L220.5,418.2 L220.75,421.28 L221,417.74 L221.25,418.98 L221.5,421.91 L221.75,420.89 L222,421.3 L222.25,421.69 L222.5,421.36 L222.75,420.24 L223,421.37 L223.25,421.61 L223.5,422.05 L223.75,422 L224,422.13 L224.25,418.76 L224.5,418.69 L224.75,419.77 L225,419.95 L225.25,420.88 L225.5,419.52 L225.75,421.43 L226,422.15 L226.25,419.64 L226.5,420.82 L226.75,419.36 L227,421.72 L227.25,417.82 L227.5,417.89 L227.75,421.66 L228,420.7 L228.25,419.45 L228.5,419.55 L228.75,420.82 L229,418.33 L229.25,421.24 L229.5,421.06 L229.75,418.53 L230,418.18 L230.25,418.87 L230.5,422.52 L230.75,419.09 L231,420.92 L231.25,419.92 L231.5,422.58 L231.75,422.75 L232,422.02 L232.25,420.65 L232.5,418.97 L232.75,420.3 L233,419.35 L233.25,418.66 L233.5,422.26 L233.75,419.99 L234,422.44 L234.25,418.61 L234.5,420.35 L234.75,419.98 L235,421.27 L235.25,420.77 L235.5,422.59 L235.75,420.05 L236,418.62 L236.25,421.58 L236.5,420.49 L236.75,422.59 L237,422.35 L237.25,419.96 L237.5,422.92 L237.75,419.14 L238,421.31 L238.25,420.33 L238.5,421.52 L238.75,422.1 L239,421.09 L239.25,423.14 L239.5,422.34 L239.75,420.37 L240,421.92 L240.25,419.91 L240.5,421.32 L240.75,422.36 L241,419.31 L241.25,422.78 L241.5,422.15 L241.75,420.16 L242,420.11 L242.25,423.26 L242.5,419.62 L242.75,423.18 L243,420.28 L243.25,419.3 L243.5,420.65 L243.75,423.34 L244,419.79 L244.25,420.96 L244.5,421.85 L244.75,420.36 L245,422.45 L245.25,421.53 L245.5,422.46 L245.75,420.65 L246,421.44 L246.25,421.93 L246.5,423.05 L246.75,422.88 L247,420.69 L247.25,420.29 L247.5,419.39 L247.75,422.61 L248,421.03 L248.25,419.64 L248.5,422.15 L248.75,422.11 L249,422.79 L249.25,423.58 L249.5,420.8 L249.75,422.99 L250,420.11 L250.25,421.74 L250.5,422.4 L250.75,419.92 L251,419.62 L251.25,421.68 L251.5,422.47 L251.75,421.25 L252,420.67 L252.25,423.09 L252.5,420.13 L252.75,422.96 L253,423.66 L253.25,422.95 L253.5,422.53 L253.75,420.13 L254,422.82 L254.25,420.84 L254.5,422.39 L254.75,420.87 L255,420.66 L255.25,422.79 L255.5,423.39 L255.75,422.93 L256,423.6 L256.25,419.73 L256.5,420.38 L256.75,420.02 L257,422.35 L257.25,419.97 L257.5,420.32 L257.75,422.76 L258,421.38 L258.25,420.88 L258.5,420.85 L258.75,423.66 L259,420.06 L259.25,420.07 L259.5,421.93 L259.75,422.91 L260,422.72 L260.25,422.4 L260.5,421.08 L260.75,424.68 L261,424.54 L261.25,424.67 L261.5,422.33 L261.75,422.24 L262,423.44 L262.25,421.75 L262.5,422.05 L262.75,421.1 L263,422.62 L263.25,421.16 L263.5,421.17 L263.75,422.88 L264,424.81 L264.25,424.72 L264.5,423.69 L264.75,420.64 L265,420.43 L265.25,423.74 L265.5,421.63 L265.75,421.19 L266,425.04 L266.25,420.67 L266.5,422.13 L266.75,424.23 L267,420.99 L267.25,421.25 L267.5,422.74 L267.75,424.8 L268,422.8 L268.25,421.21 L268.5,423.24 L268.75,421.62 L269,420.77 L269.25,423.98 L269.5,425.25 L269.75,424.12 L270,424.5 L270.25,420.79 L270.5,421.77 L270.75,422.36 L271,424.66 L271.25,422.93 L271.5,424.97 L271.75,421.21 L272,423.78 L272.25,423.16 L272.5,421.88 L272.75,425.14 L273,421.45 L273.25,421.57 L273.5,423.12 L273.75,423.97 L274,423.08 L274.25,424.41 L274.5,423.26 L274.75,424.21 L275,422.23 L275.25,424.34 L275.5,421.81 L275.75,423.94 L276,422.3 L276.25,422.27 L276.5,424.87 L276.75,424.18 L277,421.45 L277.25,425.79 L277.5,420.74 L277.75,422.44 L278,422.36 L278.25,425.66 L278.5,425.62 L278.75,421.55 L279,424.91 L279.25,425.93 L279.5,422.32 L279.75,422.23 L280,421.98 L280.25,425.61 L280.5,421.54 L280.75,424.11 L281,423.89 L281.25,424.33 L281.5,421.97 L281.75,424.14 L282,423.31 L282.25,425.49 L282.5,425.5 L282.75,423.81 L283,424.71 L283.25,423.71 L283.5,426.25 L283.75,423.4 L284,425.16 L284.25,425.72 L284.5,423.52 L284.75,425.36 L285,424.66 L285.25,425.86 L285.5,422.25 L285.75,425.11 L286,424.34 L286.25,423.84 L286.5,424.96 L286.75,425.37 L287,426.22 L287.25,425.68 L287.5,425.19 L287.75,424.06 L288,422.92 L288.25,424.14 L288.5,423.29 L288.75,423.75 L289,422.61 L289.25,426.69 L289.5,426.49 L289.75,426.07 L290,425.7 L290.25,423.41 L290.5,422.38 L290.75,426.37 L291,423.83 L291.25,425.89 L291.5,426 L291.75,422.86 L292,423.84 L292.25,424.1 L292.5,426.86 L292.75,424.89 L293,424.94 L293.25,424.36 L293.5,425.67 L293.75,422.94 L294,423.86 L294.25,422.63 L294.5,425.86 L294.75,423.41 L295,425.77 L295.25,426.06 L295.5,423.8 L295.75,422.81 L296,423.66 L296.25,427.13 L296.5,425.44 L296.75,425.49 L297,424.16 L297.25,422.41 L297.5,424.46 L297.75,423.35 L298,427.28 L298.25,424.12 L298.5,423.7 L298.75,424.29 L299,426.07 L299.25,426.27 L299.5,427.22 L299.75,427.31 L300,426.78 L300.25,426.92 L300.5,426.1 L300.75,423.1 L301,427.2 L301.25,426.1 L301.5,426.13 L301.75,423.79 L302,427.63 L302.25,426.14 L302.5,424.2 L302.75,423.27 L303,423.82 L303.25,424.9 L303.5,423.89 L303.75,424.43 L304,425.68 L304.25,424.45 L304.5,424.64 L304.75,426.84 L305,424.26 L305.25,425.14 L305.5,426.33 L305.75,427.39 L306,426.47 L306.25,424.11 L306.5,425.48 L306.75,425.6 L307,423.95" fill="none" stroke="#3b8384" stroke-width="1.15" stroke-linejoin="round"/>
<path d="M51,446.9 L51.25,445.6 L51.5,444.96 L51.75,446.06 L52,448.78 L52.25,444.46 L52.5,447.67 L52.75,448.2 L53,448.06 L53.25,448.4 L53.5,444.85 L53.75,447.84 L54,443.9 L54.25,447.96 L54.5,446.93 L54.75,445.47 L55,444.16 L55.25,444.85 L55.5,447.85 L55.75,443.22 L56,446.04 L56.25,442.83 L56.5,446.31 L56.75,443.7 L57,445.46 L57.25,443.09 L57.5,446.99 L57.75,446.47 L58,446.61 L58.25,443.15 L58.5,446.44 L58.75,442.43 L59,443.95 L59.25,442.62 L59.5,444.5 L59.75,443.5 L60,441.45 L60.25,442.47 L60.5,443.78 L60.75,443.59 L61,444.16 L61.25,445.14 L61.5,445.89 L61.75,441.88 L62,442.27 L62.25,442.29 L62.5,440.56 L62.75,441.17 L63,440.25 L63.25,441.47 L63.5,442.92 L63.75,440.65 L64,440.47 L64.25,440.51 L64.5,442.32 L64.75,444.09 L65,440.64 L65.25,442.34 L65.5,441.32 L65.75,442.52 L66,443.93 L66.25,443.75 L66.5,439.04 L66.75,438.48 L67,440.05 L67.25,443.44 L67.5,440.49 L67.75,442.61 L68,441.48 L68.25,438.56 L68.5,441.27 L68.75,441.9 L69,442.62 L69.25,437.87 L69.5,440.34 L69.75,440.86 L70,438.35 L70.25,439.73 L70.5,437.24 L70.75,440.02 L71,440.15 L71.25,436.53 L71.5,439.94 L71.75,439.66 L72,441.18 L72.25,437.21 L72.5,440.94 L72.75,437.9 L73,440.39 L73.25,439.39 L73.5,438.89 L73.75,435.9 L74,436.24 L74.25,435.16 L74.5,437.02 L74.75,435.14 L75,439.66 L75.25,436.38 L75.5,436.7 L75.75,436.79 L76,437.75 L76.25,435.98 L76.5,438.01 L76.75,437.22 L77,437.44 L77.25,434.56 L77.5,435.02 L77.75,437.73 L78,437.78 L78.25,436.24 L78.5,433 L78.75,436.77 L79,432.25 L79.25,433.53 L79.5,432.49 L79.75,433.82 L80,438.61 L80.25,432.78 L80.5,437.38 L80.75,433.78 L81,433.6 L81.25,434.37 L81.5,431.92 L81.75,432.42 L82,434.87 L82.25,432.77 L82.5,435.25 L82.75,433.83 L83,436.16 L83.25,431.19 L83.5,434.66 L83.75,434.69 L84,435.05 L84.25,431.03 L84.5,431.47 L84.75,434.8 L85,431.5 L85.25,433.82 L85.5,430.78 L85.75,433.18 L86,433.38 L86.25,431.17 L86.5,432.62 L86.75,429.7 L87,430.68 L87.25,432.95 L87.5,432.71 L87.75,430.31 L88,432.8 L88.25,429.86 L88.5,433.24 L88.75,432.84 L89,433.19 L89.25,430.39 L89.5,428.82 L89.75,428.11 L90,431.25 L90.25,433.54 L90.5,430.78 L90.75,428.74 L91,430.95 L91.25,431.97 L91.5,432.23 L91.75,428.11 L92,430.39 L92.25,431.37 L92.5,429.27 L92.75,431.45 L93,429.41 L93.25,432.52 L93.5,430.67 L93.75,429.65 L94,428.1 L94.25,432.51 L94.5,427.52 L94.75,430.27 L95,427.01 L95.25,430.98 L95.5,426.95 L95.75,426.91 L96,426.59 L96.25,430.66 L96.5,426.75 L96.75,427.01 L97,430.82 L97.25,426.93 L97.5,428.33 L97.75,426.5 L98,431.38 L98.25,427.18 L98.5,430.81 L98.75,428.32 L99,429.05 L99.25,428.2 L99.5,429.73 L99.75,426.56 L100,426.03 L100.25,427.37 L100.5,426.87 L100.75,431.16 L101,430.37 L101.25,426.4 L101.5,427.4 L101.75,427.87 L102,430.48 L102.25,425.53 L102.5,429.03 L102.75,431.08 L103,430.5 L103.25,427.15 L103.5,427.82 L103.75,427.88 L104,427.04 L104.25,428.15 L104.5,430.97 L104.75,427.28 L105,430.58 L105.25,430.19 L105.5,430.74 L105.75,429.88 L106,431 L106.25,429.32 L106.5,431.01 L106.75,431.2 L107,431.46 L107.25,431.86 L107.5,430.41 L107.75,426.84 L108,429.79 L108.25,428.65 L108.5,431.26 L108.75,428.05 L109,428.32 L109.25,428.48 L109.5,431.59 L109.75,427.47 L110,431.39 L110.25,429.84 L110.5,431.85 L110.75,429.09 L111,432.5 L111.25,432.59 L111.5,429.28 L111.75,430.84 L112,430.98 L112.25,430.65 L112.5,430.13 L112.75,431.62 L113,429.95 L113.25,433.42 L113.5,428.73 L113.75,428.29 L114,430.63 L114.25,430.68 L114.5,431.29 L114.75,432.87 L115,429.72 L115.25,433.09 L115.5,433.62 L115.75,431.15 L116,432.8 L116.25,430 L116.5,430.8 L116.75,430.01 L117,431.37 L117.25,427.17 L117.5,425.51 L117.75,413.19 L118,404.62 L118.25,405.08 L118.5,413.45 L118.75,422.7 L119,430.57 L119.25,434.64 L119.5,432.9 L119.75,433.32 L120,433.82 L120.25,432.77 L120.5,431.95 L120.75,432.96 L121,433.33 L121.25,430.87 L121.5,434.93 L121.75,432.37 L122,434.03 L122.25,434.62 L122.5,432.51 L122.75,435.49 L123,435.55 L123.25,433.24 L123.5,436.95 L123.75,437.16 L124,432.56 L124.25,436.57 L124.5,433.09 L124.75,435.93 L125,434.38 L125.25,434 L125.5,433.66 L125.75,436.27 L126,433.89 L126.25,433.58 L126.5,434.96 L126.75,434.35 L127,435.86 L127.25,436.22 L127.5,436.25 L127.75,437.01 L128,434.83 L128.25,437.82 L128.5,436.32 L128.75,436.55 L129,438.08 L129.25,435.29 L129.5,437.8 L129.75,439.25 L130,436.7 L130.25,439.83 L130.5,437.32 L130.75,438.07 L131,439.14 L131.25,436.09 L131.5,439.96 L131.75,438.66 L132,437.43 L132.25,438.64 L132.5,436.79 L132.75,440.69 L133,436.16 L133.25,438.66 L133.5,438.14 L133.75,438.17 L134,441.33 L134.25,439.03 L134.5,438.65 L134.75,440.85 L135,438.76 L135.25,438.81 L135.5,439.83 L135.75,438.84 L136,438.03 L136.25,437.4 L136.5,437.7 L136.75,438.25 L137,437.88 L137.25,441.51 L137.5,442.52 L137.75,440.74 L138,438.43 L138.25,440.32 L138.5,442.05 L138.75,440.26 L139,442.88 L139.25,441.55 L139.5,438.75 L139.75,438.61 L140,442.4 L140.25,439.42 L140.5,439.87 L140.75,442.51 L141,441 L141.25,441.47 L141.5,440.64 L141.75,444.44 L142,443.16 L142.25,440.56 L142.5,441.54 L142.75,440.15 L143,443.75 L143.25,442.29 L143.5,443.09 L143.75,444.75 L144,442.08 L144.25,445.26 L144.5,445.22 L144.75,441.4 L145,442.73 L145.25,440.92 L145.5,444.98 L145.75,441.14 L146,443.31 L146.25,444.2 L146.5,443.5 L146.75,446.35 L147,444.75 L147.25,443.66 L147.5,446.41 L147.75,445.94 L148,447.06 L148.25,443.8 L148.5,443.63 L148.75,443.22 L149,444.98 L149.25,447.25 L149.5,447.39 L149.75,443.62 L150,445.83 L150.25,446 L150.5,447.82 L150.75,447.16 L151,444.79 L151.25,447.83 L151.5,447.22 L151.75,447.35 L152,444.34 L152.25,447.51 L152.5,447.29 L152.75,446 L153,448.9 L153.25,446.48 L153.5,448.45 L153.75,446.83 L154,446.66 L154.25,447.11 L154.5,448.56 L154.75,448.32 L155,449.91 L155.25,448.81 L155.5,448.4 L155.75,446.62 L156,445.68 L156.25,446.03 L156.5,450.67 L156.75,448.04 L157,449.35 L157.25,447.64 L157.5,446.97 L157.75,450.08 L158,447.16 L158.25,447.97 L158.5,450.9 L158.75,450.29 L159,450.99 L159.25,451.04 L159.5,451.44 L159.75,449.9 L160,451.06 L160.25,447.55 L160.5,450.99 L160.75,450.79 L161,449.54 L161.25,451.97 L161.5,448.15 L161.75,449.36 L162,444.81 L162.25,440.5 L162.5,434.23 L162.75,436.38 L163,442.62 L163.25,449.41 L163.5,452.09 L163.75,448.85 L164,452.87 L164.25,450.99 L164.5,448.64 L164.75,449.16 L165,451.6 L165.25,453.16 L165.5,450.5 L165.75,451.84 L166,452.98 L166.25,450.71 L166.5,450.5 L166.75,450.31 L167,448.84 L167.25,451.88 L167.5,451.73 L167.75,453.32 L168,452.68 L168.25,454.17 L168.5,453.28 L168.75,449.93 L169,454.24 L169.25,452.56 L169.5,451.8 L169.75,452.66 L170,450.06 L170.25,450.88 L170.5,450.58 L170.75,451.39 L171,452.59 L171.25,454.71 L171.5,453.52 L171.75,454.18 L172,450.94 L172.25,451.72 L172.5,452.2 L172.75,454.95 L173,455.18 L173.25,453.67 L173.5,454.05 L173.75,452.42 L174,451.99 L174.25,451.6 L174.5,453.61 L174.75,451.7 L175,453.64 L175.25,452.94 L175.5,451.18 L175.75,453.08 L176,454.64 L176.25,454.99 L176.5,451.71 L176.75,453.1 L177,454.85 L177.25,454.46 L177.5,453.52 L177.75,455.69 L178,452.37 L178.25,451.97 L178.5,452.04 L178.75,453.59 L179,454.03 L179.25,452.86 L179.5,453.18 L179.75,455.94 L180,453.81 L180.25,452.12 L180.5,455.78 L180.75,452.7 L181,452.3 L181.25,453.58 L181.5,455.45 L181.75,454.44 L182,455.2 L182.25,455.19 L182.5,456.95 L182.75,453.3 L183,453.22 L183.25,455.45 L183.5,453.91 L183.75,455.45 L184,454.27 L184.25,454.44 L184.5,452.86 L184.75,457.02 L185,453.06 L185.25,454.84 L185.5,455.68 L185.75,456.33 L186,456.93 L186.25,454.9 L186.5,454.98 L186.75,455.91 L187,455.47 L187.25,453.12 L187.5,456.52 L187.75,454.42 L188,455.62 L188.25,454.6 L188.5,454.72 L188.75,454.35 L189,455 L189.25,453.59 L189.5,457.06 L189.75,453.94 L190,456.46 L190.25,455 L190.5,452.59 L190.75,454.94 L191,457.82 L191.25,457.46 L191.5,457.3 L191.75,457.79 L192,457.72 L192.25,454.42 L192.5,455.72 L192.75,455.26 L193,456.24 L193.25,454.89 L193.5,455.92 L193.75,456.66 L194,456.1 L194.25,457.18 L194.5,457.25 L194.75,454.93 L195,456.11 L195.25,455.16 L195.5,457.03 L195.75,456.06 L196,454.9 L196.25,455.56 L196.5,455.59 L196.75,457.26 L197,455.08 L197.25,456.93 L197.5,456.76 L197.75,454.79 L198,454.05 L198.25,455.56 L198.5,453.25 L198.75,454 L199,453.16 L199.25,456.52 L199.5,456.01 L199.75,455.39 L200,457.44 L200.25,458.08 L200.5,456.3 L200.75,455.77 L201,455.22 L201.25,455.67 L201.5,458.2 L201.75,458.21 L202,456.37 L202.25,457.91 L202.5,455.07 L202.75,456.49 L203,457.19 L203.25,454.7 L203.5,456.1 L203.75,456.27 L204,456.12 L204.25,457.42 L204.5,454.8 L204.75,457.4 L205,455.62 L205.25,458.74 L205.5,457.35 L205.75,455.94 L206,456.25 L206.25,457.48 L206.5,455.4 L206.75,456.25 L207,456.49 L207.25,455.44 L207.5,456 L207.75,456.03 L208,456.45 L208.25,458.48 L208.5,456.2 L208.75,457.14 L209,455.31 L209.25,456.08 L209.5,458.5 L209.75,457.52 L210,458.63 L210.25,456.3 L210.5,457.11 L210.75,455.61 L211,455.72 L211.25,455.66 L211.5,456.88 L211.75,457.5 L212,458.37 L212.25,459.6 L212.5,457.58 L212.75,456.99 L213,456.31 L213.25,456.97 L213.5,458.11 L213.75,456.7 L214,459.62 L214.25,456 L214.5,457.83 L214.75,456.97 L215,457.03 L215.25,459.73 L215.5,457.35 L215.75,458.49 L216,457.58 L216.25,456.68 L216.5,457.67 L216.75,457.33 L217,455.86 L217.25,459.9 L217.5,458.69 L217.75,457.83 L218,456.56 L218.25,458.83 L218.5,458.64 L218.75,458.52 L219,458.09 L219.25,458.29 L219.5,458.02 L219.75,456.54 L220,458.9 L220.25,458.66 L220.5,458.48 L220.75,457.95 L221,458.5 L221.25,457.65 L221.5,460.27 L221.75,458.93 L222,458.94 L222.25,460.18 L222.5,459.31 L222.75,459.84 L223,459.78 L223.25,456.31 L223.5,458.16 L223.75,459.24 L224,460.01 L224.25,460.18 L224.5,456.46 L224.75,456.65 L225,459.06 L225.25,457.09 L225.5,457.62 L225.75,460.33 L226,460.71 L226.25,459.9 L226.5,460.48 L226.75,459.66 L227,456.94 L227.25,458.93 L227.5,460.28 L227.75,459.6 L228,459.97 L228.25,457.37 L228.5,457.45 L228.75,459.16 L229,457.73 L229.25,455.2 L229.5,458.58 L229.75,457.52 L230,456.26 L230.25,459.78 L230.5,458.31 L230.75,458.32 L231,459.67 L231.25,459.12 L231.5,460.82 L231.75,459.09 L232,457.79 L232.25,458.47 L232.5,457.39 L232.75,459.71 L233,458.63 L233.25,457.97 L233.5,457.07 L233.75,458.17 L234,459.45 L234.25,459.78 L234.5,460.45 L234.75,460.83 L235,460.06 L235.25,459.06 L235.5,461.27 L235.75,457.67 L236,459.42 L236.25,458.22 L236.5,458.94 L236.75,458.09 L237,458.14 L237.25,459.64 L237.5,459.51 L237.75,457.47 L238,457.81 L238.25,460.68 L238.5,459.73 L238.75,460.78 L239,460.57 L239.25,459.93 L239.5,459.1 L239.75,457.82 L240,460.49 L240.25,459.91 L240.5,458.03 L240.75,461.3 L241,458.69 L241.25,458.73 L241.5,459.74 L241.75,458.96 L242,459.28 L242.25,460.78 L242.5,458.29 L242.75,459.16 L243,460.73 L243.25,462 L243.5,457.98 L243.75,459.58 L244,459.52 L244.25,458.19 L244.5,460.06 L244.75,459.76 L245,461.43 L245.25,458.7 L245.5,461.72 L245.75,460.77 L246,459.95 L246.25,459.06 L246.5,461.68 L246.75,459.61 L247,462.89 L247.25,460.73 L247.5,461.66 L247.75,458.68 L248,461.14 L248.25,459.03 L248.5,460.94 L248.75,458.3 L249,459.58 L249.25,459.65 L249.5,461.07 L249.75,461.59 L250,460.58 L250.25,458.79 L250.5,458.61 L250.75,458.45 L251,459.9 L251.25,460.03 L251.5,460.13 L251.75,460.6 L252,462.47 L252.25,460.27 L252.5,462.51 L252.75,461.18 L253,460.14 L253.25,459.68 L253.5,458.7 L253.75,462.19 L254,460.4 L254.25,459.73 L254.5,460.76 L254.75,462.52 L255,459.62 L255.25,460.25 L255.5,460.51 L255.75,459.93 L256,461.65 L256.25,462.55 L256.5,459.97 L256.75,458.81 L257,459.27 L257.25,458.82 L257.5,459.7 L257.75,459.16 L258,460.96 L258.25,462.23 L258.5,459.88 L258.75,462.83 L259,461.95 L259.25,462.8 L259.5,461.37 L259.75,459.32 L260,461.8 L260.25,461.92 L260.5,461 L260.75,460.77 L261,461.4 L261.25,460.12 L261.5,459.35 L261.75,461.06 L262,459.5 L262.25,461.12 L262.5,460.6 L262.75,462.76 L263,463.14 L263.25,463.19 L263.5,460.16 L263.75,461.65 L264,463.26 L264.25,462.49 L264.5,459.48 L264.75,459.89 L265,461.73 L265.25,461.1 L265.5,459.6 L265.75,459.64 L266,461.91 L266.25,459.41 L266.5,463.22 L266.75,461.02 L267,462.16 L267.25,461.98 L267.5,461.66 L267.75,460.09 L268,463.32 L268.25,463.44 L268.5,462.82 L268.75,462.43 L269,463.25 L269.25,463.02 L269.5,462.65 L269.75,460.7 L270,462.72 L270.25,462.92 L270.5,460.15 L270.75,461.81 L271,460.86 L271.25,460.12 L271.5,460.42 L271.75,460.87 L272,460.77 L272.25,461.01 L272.5,461.34 L272.75,459.61 L273,460.94 L273.25,463.55 L273.5,460.28 L273.75,460.02 L274,462.02 L274.25,460.65 L274.5,463.65 L274.75,463.74 L275,460.19 L275.25,459.77 L275.5,463.04 L275.75,461.98 L276,460.36 L276.25,460.83 L276.5,460.54 L276.75,462.13 L277,462.37 L277.25,463.59 L277.5,462.14 L277.75,463.64 L278,460.25 L278.25,462.75 L278.5,462.52 L278.75,463.73 L279,461.72 L279.25,463.03 L279.5,460.37 L279.75,463.26 L280,462.75 L280.25,460.49 L280.5,462 L280.75,463.89 L281,461.83 L281.25,462.61 L281.5,464.02 L281.75,460.36 L282,460.14 L282.25,461.77 L282.5,461.79 L282.75,463.3 L283,461.1 L283.25,462.15 L283.5,462.8 L283.75,461.49 L284,464.26 L284.25,461.33 L284.5,460.59 L284.75,461.96 L285,463.09 L285.25,463.68 L285.5,462.76 L285.75,461.85 L286,462.84 L286.25,462.53 L286.5,462.34 L286.75,460.76 L287,463.63 L287.25,460.85 L287.5,463.95 L287.75,463.87 L288,464.01 L288.25,461.56 L288.5,463.82 L288.75,461.48 L289,462.03 L289.25,463.6 L289.5,461.86 L289.75,464.31 L290,464.27 L290.25,465.3 L290.5,462.45 L290.75,463.55 L291,463.14 L291.25,463.2 L291.5,463.5 L291.75,460.7 L292,464.23 L292.25,464.31 L292.5,463.33 L292.75,461.68 L293,461.65 L293.25,462.89 L293.5,462.08 L293.75,464.65 L294,464.66 L294.25,462.9 L294.5,462.22 L294.75,461.54 L295,463.99 L295.25,460.94 L295.5,462.88 L295.75,461.56 L296,462.52 L296.25,464.69 L296.5,462.28 L296.75,461.5 L297,463.81 L297.25,461.48 L297.5,463.06 L297.75,464.34 L298,461.91 L298.25,464.33 L298.5,461.07 L298.75,464.43 L299,464.2 L299.25,463.68 L299.5,465.11 L299.75,464.52 L300,462.43 L300.25,463.94 L300.5,463.48 L300.75,462.22 L301,461.77 L301.25,464.83 L301.5,464.07 L301.75,461.76 L302,464.38 L302.25,461.69 L302.5,464.43 L302.75,464.62 L303,461.77 L303.25,464.91 L303.5,461.67 L303.75,461.76 L304,461.74 L304.25,464.1 L304.5,463.08 L304.75,461.58 L305,462.44 L305.25,464.36 L305.5,463.64 L305.75,462.02 L306,462.71 L306.25,464.52 L306.5,462.87 L306.75,465.05 L307,463.52" fill="none" stroke="#c9b22c" stroke-width="1.15" stroke-linejoin="round"/>
<rect x="50.8" y="275.5" width="257.2" height="201.1" fill="none" stroke="#111" stroke-width="1.6"/>
<line x1="50.5" y1="476.6" x2="50.5" y2="480.6" stroke="#111" stroke-width="1.3"/>
<text x="51.8" y="491.9" font-size="10.5" font-weight="bold" text-anchor="middle" fill="#000" stroke="#000" stroke-width="0.35" stroke-linejoin="round" textLength="11" lengthAdjust="spacingAndGlyphs">10</text>
<line x1="87.23" y1="476.6" x2="87.23" y2="480.6" stroke="#111" stroke-width="1.3"/>
<text x="88.53" y="491.9" font-size="10.5" font-weight="bold" text-anchor="middle" fill="#000" stroke="#000" stroke-width="0.35" stroke-linejoin="round" textLength="11" lengthAdjust="spacingAndGlyphs">20</text>
<line x1="123.96" y1="476.6" x2="123.96" y2="480.6" stroke="#111" stroke-width="1.3"/>
<text x="125.26" y="491.9" font-size="10.5" font-weight="bold" text-anchor="middle" fill="#000" stroke="#000" stroke-width="0.35" stroke-linejoin="round" textLength="11" lengthAdjust="spacingAndGlyphs">30</text>
<line x1="160.69" y1="476.6" x2="160.69" y2="480.6" stroke="#111" stroke-width="1.3"/>
<text x="161.99" y="491.9" font-size="10.5" font-weight="bold" text-anchor="middle" fill="#000" stroke="#000" stroke-width="0.35" stroke-linejoin="round" textLength="11" lengthAdjust="spacingAndGlyphs">40</text>
<line x1="197.42" y1="476.6" x2="197.42" y2="480.6" stroke="#111" stroke-width="1.3"/>
<text x="198.72" y="491.9" font-size="10.5" font-weight="bold" text-anchor="middle" fill="#000" stroke="#000" stroke-width="0.35" stroke-linejoin="round" textLength="11" lengthAdjust="spacingAndGlyphs">50</text>
<line x1="234.15" y1="476.6" x2="234.15" y2="480.6" stroke="#111" stroke-width="1.3"/>
<text x="235.45" y="491.9" font-size="10.5" font-weight="bold" text-anchor="middle" fill="#000" stroke="#000" stroke-width="0.35" stroke-linejoin="round" textLength="11" lengthAdjust="spacingAndGlyphs">60</text>
<line x1="270.88" y1="476.6" x2="270.88" y2="480.6" stroke="#111" stroke-width="1.3"/>
<text x="272.18" y="491.9" font-size="10.5" font-weight="bold" text-anchor="middle" fill="#000" stroke="#000" stroke-width="0.35" stroke-linejoin="round" textLength="11" lengthAdjust="spacingAndGlyphs">70</text>
<line x1="307.61" y1="476.6" x2="307.61" y2="480.6" stroke="#111" stroke-width="1.3"/>
<text x="308.91" y="491.9" font-size="10.5" font-weight="bold" text-anchor="middle" fill="#000" stroke="#000" stroke-width="0.35" stroke-linejoin="round" textLength="11" lengthAdjust="spacingAndGlyphs">80</text>
<line x1="68.86" y1="476.6" x2="68.86" y2="478.8" stroke="#111" stroke-width="1.1"/>
<line x1="105.59" y1="476.6" x2="105.59" y2="478.8" stroke="#111" stroke-width="1.1"/>
<line x1="142.32" y1="476.6" x2="142.32" y2="478.8" stroke="#111" stroke-width="1.1"/>
<line x1="179.06" y1="476.6" x2="179.06" y2="478.8" stroke="#111" stroke-width="1.1"/>
<line x1="215.78" y1="476.6" x2="215.78" y2="478.8" stroke="#111" stroke-width="1.1"/>
<line x1="252.51" y1="476.6" x2="252.51" y2="478.8" stroke="#111" stroke-width="1.1"/>
<line x1="289.25" y1="476.6" x2="289.25" y2="478.8" stroke="#111" stroke-width="1.1"/>
<text x="2.6" y="281.6" font-size="29" font-weight="bold" fill="#000" stroke="#000" stroke-width="0.9" stroke-linejoin="round" textLength="20.2" lengthAdjust="spacingAndGlyphs">C</text>
<text x="134.9" y="508.9" font-size="15.5" font-weight="bold" fill="#000" stroke="#000" stroke-width="0.35" stroke-linejoin="round" textLength="82.3" lengthAdjust="spacingAndGlyphs">2θ (degree)</text>
<text transform="translate(29.9 428.5) rotate(-90)" font-size="16" font-weight="bold" stroke="#000" stroke-width="0.4" textLength="107.2" lengthAdjust="spacingAndGlyphs">Intensity (a.u.)</text>
<text x="60" y="505.5" font-size="21" fill="#262626" textLength="31.4" lengthAdjust="spacingAndGlyphs" style="font-family:'Liberation Serif',serif">(D)</text>
<text x="250.7" y="373.3" font-size="14" font-weight="bold" fill="#6c705a" stroke="#6c705a" stroke-width="0.35" stroke-linejoin="round" textLength="16.4" lengthAdjust="spacingAndGlyphs">SC</text>
<text x="247.7" y="412.2" font-size="14" font-weight="bold" fill="#3b8384" stroke="#3b8384" stroke-width="0.35" stroke-linejoin="round" textLength="34.3" lengthAdjust="spacingAndGlyphs">SCCs</text>
<text x="247.7" y="449.3" font-size="14" font-weight="bold" fill="#c9b22c" stroke="#c9b22c" stroke-width="0.35" stroke-linejoin="round" textLength="26.9" lengthAdjust="spacingAndGlyphs">CDs</text>
<rect x="424" y="275.6" width="28.9" height="207.6" fill="#fce8d7"/>
<rect x="470.1" y="275.6" width="7.7" height="207.6" fill="#fce8d7"/>
<rect x="570.1" y="275.6" width="12.9" height="207.6" fill="#fce8d7"/>
<rect x="616.6" y="389.4" width="13.4" height="93.8" fill="#fce8d7"/>
<path d="M390,290.1C390.67,290.28 392.65,290.72 394,291.2C395.35,291.68 396.85,292.2 398.1,293C399.35,293.8 400.4,294.72 401.5,296C402.6,297.28 403.78,299.17 404.7,300.7C405.62,302.23 406.27,303.38 407,305.2C407.73,307.02 408.47,309.55 409.1,311.6C409.73,313.65 410.25,315.32 410.8,317.5C411.35,319.68 411.93,322.28 412.4,324.7C412.87,327.12 413.23,329.45 413.6,332C413.97,334.55 414.08,336.1 414.6,340C415.12,343.9 415.8,350.9 416.7,355.4C417.6,359.9 418.72,363.82 420,367C421.28,370.18 422.98,372.87 424.4,374.5C425.82,376.13 427.03,376.25 428.5,376.8C429.97,377.35 430.72,377.38 433.2,377.8C435.68,378.22 440.25,379.38 443.4,379.3C446.55,379.22 449.92,378.12 452.1,377.3C454.28,376.48 455.28,375.42 456.5,374.4C457.72,373.38 458.43,371.57 459.4,371.2C460.37,370.83 461.45,372.4 462.3,372.2C463.15,372 463.52,371.03 464.5,370C465.48,368.97 466.98,366.18 468.2,366C469.42,365.82 470.83,368.47 471.8,368.9C472.77,369.33 473.27,369.63 474,368.6C474.73,367.57 475.47,363.97 476.2,362.7C476.93,361.43 477.55,362.45 478.4,361C479.25,359.55 480.45,356.77 481.3,354C482.15,351.23 482.38,347.73 483.5,344.4C484.62,341.07 486.53,337.1 488,334C489.47,330.9 490.48,328.07 492.3,325.8C494.12,323.53 496.72,323.13 498.9,320.4C501.08,317.67 503.55,312.63 505.4,309.4C507.25,306.17 508.17,303.92 510,301C511.83,298.08 514.23,293.78 516.4,291.9C518.57,290.02 520.73,289.97 523,289.7C525.27,289.43 528,290.12 530,290.3C532,290.48 533.53,290.53 535,290.8C536.47,291.07 537.47,291.78 538.8,291.9C540.13,292.02 541.55,291.8 543,291.5C544.45,291.2 546.02,290.03 547.5,290.1C548.98,290.17 550.43,290.13 551.9,291.9C553.37,293.67 554.83,296.68 556.3,300.7C557.77,304.72 559.55,311.38 560.7,316C561.85,320.62 562.27,322.82 563.2,328.4C564.13,333.98 565.25,342.48 566.3,349.5C567.35,356.52 568.62,365.32 569.5,370.5C570.38,375.68 570.9,378.48 571.6,380.6C572.3,382.72 572.83,383.12 573.7,383.2C574.57,383.28 575.75,381.63 576.8,381.1C577.85,380.57 578.93,379.9 580,380C581.07,380.1 582.25,381.88 583.2,381.7C584.15,381.52 584.93,381.47 585.7,378.9C586.47,376.33 587.1,367.17 587.8,366.3C588.5,365.43 589.27,373.17 589.9,373.7C590.53,374.23 590.97,369.33 591.6,369.5C592.23,369.67 592.83,376.28 593.7,374.7C594.57,373.12 595.93,361.92 596.8,360C597.67,358.08 598.18,363.9 598.9,363.2C599.62,362.5 600.38,356.15 601.1,355.8C601.82,355.45 602.5,361.28 603.2,361.1C603.9,360.92 604.5,354.7 605.3,354.7C606.1,354.7 607.2,363.37 608,361.1C608.8,358.83 609.5,345.32 610.1,341.1C610.7,336.88 611,336.52 611.6,335.8C612.2,335.08 613,338.55 613.7,336.8C614.4,335.05 615.1,327.57 615.8,325.3C616.5,323.03 617.2,321.45 617.9,323.2C618.6,324.95 619.3,336.33 620,335.8C620.7,335.27 621.4,322.98 622.1,320C622.8,317.02 623.6,317.2 624.2,317.9C624.8,318.6 625.17,327.53 625.7,324.2C626.23,320.87 626.77,303.68 627.4,297.9C628.03,292.12 628.8,289.33 629.5,289.5C630.2,289.67 630.9,298.9 631.6,298.9C632.3,298.9 633.07,289.67 633.7,289.5C634.33,289.33 634.7,296.85 635.4,297.9C636.1,298.95 637.13,295.62 637.9,295.8C638.67,295.98 639,296 640,299C641,302 642.53,308.05 643.9,313.8C645.27,319.55 646.93,328.3 648.2,333.5C649.47,338.7 650.58,342.63 651.5,345C652.42,347.37 652.78,347.32 653.7,347.7C654.62,348.08 655.9,347.67 657,347.3C658.1,346.93 659.2,346.72 660.3,345.5C661.4,344.28 662.32,344.18 663.6,340C664.88,335.82 666.55,327.32 668,320.4C669.45,313.48 671.3,303.4 672.3,298.5C673.3,293.6 673.72,292.25 674,291" fill="none" stroke="#6c705a" stroke-width="1.9" stroke-linejoin="round"/>
<path d="M390,393.6C391.67,393.67 396.68,393.88 400,394C403.32,394.12 407.4,394.05 409.9,394.3C412.4,394.55 413.35,394.78 415,395.5C416.65,396.22 418.17,397.35 419.8,398.6C421.43,399.85 423.13,401.55 424.8,403C426.47,404.45 428.18,406.33 429.8,407.3C431.42,408.27 432.85,408.47 434.5,408.8C436.15,409.13 437.78,409.43 439.7,409.3C441.62,409.17 443.92,408.55 446,408C448.08,407.45 450.2,406.75 452.2,406C454.2,405.25 455.93,404.33 458,403.5C460.07,402.67 462.88,401.62 464.6,401C466.32,400.38 467.4,399.88 468.3,399.8C469.2,399.72 469.37,400.17 470,400.5C470.63,400.83 471.35,401.72 472.1,401.8C472.85,401.88 473.68,401.33 474.5,401C475.32,400.67 475.33,400.5 477,399.8C478.67,399.1 481.17,397.63 484.5,396.8C487.83,395.97 491.92,395.3 497,394.8C502.08,394.3 508.67,394 515,393.8C521.33,393.6 529.17,393.65 535,393.6C540.83,393.55 546.67,393.37 550,393.5C553.33,393.63 553.33,394.18 555,394.4C556.67,394.62 558.67,394.55 560,394.8C561.33,395.05 562.08,395.4 563,395.9C563.92,396.4 564.7,397.03 565.5,397.8C566.3,398.57 567.05,399.38 567.8,400.5C568.55,401.62 569.25,402.7 570,404.5C570.75,406.3 571.55,409.15 572.3,411.3C573.05,413.45 573.78,416.68 574.5,417.4C575.22,418.12 576.02,416.62 576.6,415.6C577.18,414.58 577.43,412.47 578,411.3C578.57,410.13 579.28,408.9 580,408.6C580.72,408.3 581.7,409.12 582.3,409.5C582.9,409.88 583.07,411.18 583.6,410.9C584.13,410.62 584.85,409.35 585.5,407.8C586.15,406.25 586.92,402.72 587.5,401.6C588.08,400.48 588.5,400.8 589,401.1C589.5,401.4 590,402.87 590.5,403.4C591,403.93 591.5,404.45 592,404.3C592.5,404.15 593,402.57 593.5,402.5C594,402.43 594.42,404.18 595,403.9C595.58,403.62 596.33,401.47 597,400.8C597.67,400.13 598.17,399.97 599,399.9C599.83,399.83 601.17,400.55 602,400.4C602.83,400.25 603.33,399.08 604,399C604.67,398.92 605.33,399.9 606,399.9C606.67,399.9 607.17,399.08 608,399C608.83,398.92 610.17,399.63 611,399.4C611.83,399.17 612,398.02 613,397.6C614,397.18 615.67,397.1 617,396.9C618.33,396.7 619.67,396.4 621,396.4C622.33,396.4 623.67,397.1 625,396.9C626.33,396.7 627.83,395.72 629,395.2C630.17,394.68 630.17,394.1 632,393.8C633.83,393.5 637.83,393.4 640,393.4C642.17,393.4 643.33,393.5 645,393.8C646.67,394.1 648.33,394.65 650,395.2C651.67,395.75 653.33,396.73 655,397.1C656.67,397.47 658.33,397.42 660,397.4C661.67,397.38 663.33,397.37 665,397C666.67,396.63 668.5,395.73 670,395.2C671.5,394.67 673.33,394.03 674,393.8" fill="none" stroke="#3b8384" stroke-width="1.8" stroke-linejoin="round"/>
<path d="M390,427.7C391.65,427.82 397.23,428.1 399.9,428.4C402.57,428.7 403.92,429.08 406,429.5C408.08,429.92 410.72,429.63 412.4,430.9C414.08,432.17 414.87,433.58 416.1,437.1C417.33,440.62 418.35,447.43 419.8,452C421.25,456.57 422.93,460.97 424.8,464.5C426.67,468.03 429.13,471.33 431,473.2C432.87,475.07 434.5,475.4 436,475.7C437.5,476 438.55,475.55 440,475C441.45,474.45 442.67,473.73 444.7,472.4C446.73,471.07 449.72,469.35 452.2,467C454.68,464.65 457.77,461.05 459.6,458.3C461.43,455.55 462.13,452.18 463.2,450.5C464.27,448.82 465.2,448.55 466,448.2C466.8,447.85 467.33,448.17 468,448.4C468.67,448.63 469.42,449.33 470,449.6C470.58,449.87 471,450 471.5,450C472,450 472.5,449.83 473,449.6C473.5,449.37 474,449.17 474.5,448.6C475,448.03 475.47,446.9 476,446.2C476.53,445.5 476.88,445.1 477.7,444.4C478.52,443.7 479.3,443.2 480.9,442C482.5,440.8 484.9,438.53 487.3,437.2C489.7,435.87 491.82,434.93 495.3,434C498.78,433.07 504.45,432.13 508.2,431.6C511.95,431.07 514.6,431.02 517.8,430.8C521,430.58 523.65,430.43 527.4,430.3C531.15,430.17 536.55,430.12 540.3,430C544.05,429.88 547.22,429.67 549.9,429.6C552.58,429.53 554.52,429.43 556.4,429.6C558.28,429.77 560.02,430.2 561.2,430.6C562.38,431 562.82,431.35 563.5,432C564.18,432.65 564.67,433.17 565.3,434.5C565.93,435.83 566.6,437.75 567.3,440C568,442.25 568.8,445.33 569.5,448C570.2,450.67 570.83,453.35 571.5,456C572.17,458.65 572.75,461.57 573.5,463.9C574.25,466.23 575.17,468.43 576,470C576.83,471.57 577.83,472.63 578.5,473.3C579.17,473.97 579.5,474.13 580,474C580.5,473.87 581,473.5 581.5,472.5C582,471.5 582.53,469.58 583,468C583.47,466.42 583.8,464.25 584.3,463C584.8,461.75 585.5,461.23 586,460.5C586.5,459.77 586.88,459.27 587.3,458.6C587.72,457.93 588.05,456.8 588.5,456.5C588.95,456.2 589.42,456.23 590,456.8C590.58,457.37 591.33,458.77 592,459.9C592.67,461.03 593.5,462.82 594,463.6C594.5,464.38 594.58,464.88 595,464.6C595.42,464.32 596,463.03 596.5,461.9C597,460.77 597.25,459.17 598,457.8C598.75,456.43 599.83,455.07 601,453.7C602.17,452.33 603.5,450.97 605,449.6C606.5,448.23 608.67,446.42 610,445.5C611.33,444.58 612.17,444.42 613,444.1C613.83,443.78 614.33,443.57 615,443.6C615.67,443.63 616.33,444 617,444.3C617.67,444.6 618.33,445.05 619,445.4C619.67,445.75 620.33,446.42 621,446.4C621.67,446.38 622.33,446.12 623,445.3C623.67,444.48 624.33,442.78 625,441.5C625.67,440.22 626.17,438.73 627,437.6C627.83,436.47 629,435.32 630,434.7C631,434.08 632.17,433.92 633,433.9C633.83,433.88 634.17,434.2 635,434.6C635.83,435 637,435.62 638,436.3C639,436.98 640.17,438.08 641,438.7C641.83,439.32 642.17,439.7 643,440C643.83,440.3 644.83,440.1 646,440.5C647.17,440.9 648.5,441.92 650,442.4C651.5,442.88 653.33,443.32 655,443.4C656.67,443.48 658.33,443.4 660,442.9C661.67,442.4 663.33,441.63 665,440.4C666.67,439.17 668.5,437.32 670,435.5C671.5,433.68 673.33,430.5 674,429.5" fill="none" stroke="#c9b22c" stroke-width="1.9" stroke-linejoin="round"/>
<rect x="389.4" y="275.6" width="284.8" height="209.3" fill="none" stroke="#111" stroke-width="1.6"/>
<line x1="389.4" y1="484.9" x2="389.4" y2="489.2" stroke="#111" stroke-width="1.3"/>
<text x="390" y="500.3" font-size="11.5" font-weight="bold" text-anchor="middle" fill="#000" stroke="#000" stroke-width="0.35" stroke-linejoin="round" textLength="21.8" lengthAdjust="spacingAndGlyphs">4000</text>
<line x1="421.02" y1="484.9" x2="421.02" y2="489.2" stroke="#111" stroke-width="1.3"/>
<text x="421.62" y="500.3" font-size="11.5" font-weight="bold" text-anchor="middle" fill="#000" stroke="#000" stroke-width="0.35" stroke-linejoin="round" textLength="21.8" lengthAdjust="spacingAndGlyphs">3600</text>
<line x1="452.64" y1="484.9" x2="452.64" y2="489.2" stroke="#111" stroke-width="1.3"/>
<text x="453.24" y="500.3" font-size="11.5" font-weight="bold" text-anchor="middle" fill="#000" stroke="#000" stroke-width="0.35" stroke-linejoin="round" textLength="21.8" lengthAdjust="spacingAndGlyphs">3200</text>
<line x1="484.26" y1="484.9" x2="484.26" y2="489.2" stroke="#111" stroke-width="1.3"/>
<text x="484.86" y="500.3" font-size="11.5" font-weight="bold" text-anchor="middle" fill="#000" stroke="#000" stroke-width="0.35" stroke-linejoin="round" textLength="21.8" lengthAdjust="spacingAndGlyphs">2800</text>
<line x1="515.88" y1="484.9" x2="515.88" y2="489.2" stroke="#111" stroke-width="1.3"/>
<text x="516.48" y="500.3" font-size="11.5" font-weight="bold" text-anchor="middle" fill="#000" stroke="#000" stroke-width="0.35" stroke-linejoin="round" textLength="21.8" lengthAdjust="spacingAndGlyphs">2400</text>
<line x1="547.5" y1="484.9" x2="547.5" y2="489.2" stroke="#111" stroke-width="1.3"/>
<text x="548.1" y="500.3" font-size="11.5" font-weight="bold" text-anchor="middle" fill="#000" stroke="#000" stroke-width="0.35" stroke-linejoin="round" textLength="21.8" lengthAdjust="spacingAndGlyphs">2000</text>
<line x1="579.12" y1="484.9" x2="579.12" y2="489.2" stroke="#111" stroke-width="1.3"/>
<text x="579.72" y="500.3" font-size="11.5" font-weight="bold" text-anchor="middle" fill="#000" stroke="#000" stroke-width="0.35" stroke-linejoin="round" textLength="21.8" lengthAdjust="spacingAndGlyphs">1600</text>
<line x1="610.74" y1="484.9" x2="610.74" y2="489.2" stroke="#111" stroke-width="1.3"/>
<text x="611.34" y="500.3" font-size="11.5" font-weight="bold" text-anchor="middle" fill="#000" stroke="#000" stroke-width="0.35" stroke-linejoin="round" textLength="21.8" lengthAdjust="spacingAndGlyphs">1200</text>
<line x1="642.36" y1="484.9" x2="642.36" y2="489.2" stroke="#111" stroke-width="1.3"/>
<text x="642.96" y="500.3" font-size="11.5" font-weight="bold" text-anchor="middle" fill="#000" stroke="#000" stroke-width="0.35" stroke-linejoin="round" textLength="16.35" lengthAdjust="spacingAndGlyphs">800</text>
<line x1="673.98" y1="484.9" x2="673.98" y2="489.2" stroke="#111" stroke-width="1.3"/>
<text x="674.58" y="500.3" font-size="11.5" font-weight="bold" text-anchor="middle" fill="#000" stroke="#000" stroke-width="0.35" stroke-linejoin="round" textLength="16.35" lengthAdjust="spacingAndGlyphs">400</text>
<text x="338.2" y="277.8" font-size="28.6" font-weight="bold" fill="#000" stroke="#000" stroke-width="0.9" stroke-linejoin="round" textLength="20.8" lengthAdjust="spacingAndGlyphs">D</text>
<text transform="translate(380.4 446.4) rotate(-90)" font-size="16.8" font-weight="bold" stroke="#000" stroke-width="0.4" textLength="123.2" lengthAdjust="spacingAndGlyphs">Transmittance</text>
<text x="455.2" y="519.8" font-size="16.5" font-weight="bold" fill="#000" stroke="#000" stroke-width="0.35" stroke-linejoin="round" textLength="101" lengthAdjust="spacingAndGlyphs">Wavenumber</text>
<text x="562.1" y="519.5" font-size="9" font-weight="bold" fill="#000" stroke="#000" stroke-width="0.35" stroke-linejoin="round" textLength="2.9" lengthAdjust="spacingAndGlyphs">(</text>
<text x="566.9" y="519.7" font-size="16.5" font-weight="bold" fill="#000" stroke="#000" stroke-width="0.35" stroke-linejoin="round" textLength="25" lengthAdjust="spacingAndGlyphs">cm</text>
<text x="592.4" y="510.5" font-size="12" font-weight="bold" fill="#000" stroke="#000" stroke-width="0.35" stroke-linejoin="round" textLength="3.6" lengthAdjust="spacingAndGlyphs">-</text>
<text x="596.3" y="514.4" font-size="16" font-weight="bold" fill="#000" stroke="#000" stroke-width="0.35" stroke-linejoin="round" textLength="8" lengthAdjust="spacingAndGlyphs">1</text>
<text x="605" y="520.5" font-size="9" font-weight="bold" fill="#000" stroke="#000" stroke-width="0.35" stroke-linejoin="round" textLength="3.2" lengthAdjust="spacingAndGlyphs">)</text>
<text x="516.4" y="287.1" font-size="10" font-weight="bold" fill="#6c705a" stroke="#6c705a" stroke-width="0.35" stroke-linejoin="round" textLength="13.1" lengthAdjust="spacingAndGlyphs">SC</text>
<text x="505.6" y="389.9" font-size="11" font-weight="bold" fill="#3b8384" stroke="#3b8384" stroke-width="0.35" stroke-linejoin="round" textLength="31" lengthAdjust="spacingAndGlyphs">SCCD</text>
<text x="508.1" y="425.2" font-size="11" font-weight="bold" fill="#c9b22c" stroke="#c9b22c" stroke-width="0.35" stroke-linejoin="round" textLength="20.7" lengthAdjust="spacingAndGlyphs">CDs</text>
<text x="427.7" y="353.9" font-size="10" font-weight="bold" fill="#000" stroke="#000" stroke-width="0.35" stroke-linejoin="round" textLength="21" lengthAdjust="spacingAndGlyphs">3493</text>
<text x="450.2" y="353.9" font-size="10" font-weight="bold" fill="#000" stroke="#000" stroke-width="0.35" stroke-linejoin="round" textLength="12.5" lengthAdjust="spacingAndGlyphs">cm</text>
<text x="463" y="349.7" font-size="6.5" font-weight="bold" fill="#000" stroke="#000" stroke-width="0.35" stroke-linejoin="round" textLength="5.5" lengthAdjust="spacingAndGlyphs">-1</text>
<text x="459.6" y="394.1" font-size="10" font-weight="bold" fill="#000" stroke="#000" stroke-width="0.35" stroke-linejoin="round" textLength="21" lengthAdjust="spacingAndGlyphs">2946</text>
<text x="482.1" y="394.1" font-size="10" font-weight="bold" fill="#000" stroke="#000" stroke-width="0.35" stroke-linejoin="round" textLength="12.5" lengthAdjust="spacingAndGlyphs">cm</text>
<text x="494.9" y="389.9" font-size="6.5" font-weight="bold" fill="#000" stroke="#000" stroke-width="0.35" stroke-linejoin="round" textLength="5.5" lengthAdjust="spacingAndGlyphs">-1</text>
<text x="570.5" y="348.8" font-size="10" font-weight="bold" fill="#000" stroke="#000" stroke-width="0.35" stroke-linejoin="round" textLength="20.5" lengthAdjust="spacingAndGlyphs">1593</text>
<text x="592.5" y="348.8" font-size="10" font-weight="bold" fill="#000" stroke="#000" stroke-width="0.35" stroke-linejoin="round" textLength="12.5" lengthAdjust="spacingAndGlyphs">cm</text>
<text x="605.3" y="344.6" font-size="6.5" font-weight="bold" fill="#000" stroke="#000" stroke-width="0.35" stroke-linejoin="round" textLength="5.5" lengthAdjust="spacingAndGlyphs">-1</text>
<text x="579.8" y="437.6" font-size="10" font-weight="bold" fill="#000" stroke="#000" stroke-width="0.35" stroke-linejoin="round" textLength="21" lengthAdjust="spacingAndGlyphs">1402</text>
<text x="602.3" y="437.6" font-size="10" font-weight="bold" fill="#000" stroke="#000" stroke-width="0.35" stroke-linejoin="round" textLength="12.5" lengthAdjust="spacingAndGlyphs">cm</text>
<text x="615.1" y="433.4" font-size="6.5" font-weight="bold" fill="#000" stroke="#000" stroke-width="0.35" stroke-linejoin="round" textLength="5.5" lengthAdjust="spacingAndGlyphs">-1</text>
<text x="620.8" y="476.4" font-size="10" font-weight="bold" fill="#000" stroke="#000" stroke-width="0.35" stroke-linejoin="round" textLength="21" lengthAdjust="spacingAndGlyphs">1074</text>
<text x="643.3" y="476.4" font-size="10" font-weight="bold" fill="#000" stroke="#000" stroke-width="0.35" stroke-linejoin="round" textLength="12.5" lengthAdjust="spacingAndGlyphs">cm</text>
<text x="656.1" y="472.2" font-size="6.5" font-weight="bold" fill="#000" stroke="#000" stroke-width="0.35" stroke-linejoin="round" textLength="5.5" lengthAdjust="spacingAndGlyphs">-1</text>
<line x1="443.7" y1="359.8" x2="443.7" y2="369.4" stroke="#111" stroke-width="1.3"/>
<path d="M443.7,378.4 L440.7,368.4 L446.7,368.4 Z" fill="#111"/>
<line x1="478.6" y1="385.5" x2="476.82" y2="377.39" stroke="#111" stroke-width="1.3"/>
<path d="M474.9,368.6 L479.97,377.73 L474.11,379.01 Z" fill="#111"/>
<line x1="579.3" y1="353.2" x2="575.64" y2="370.69" stroke="#111" stroke-width="1.3"/>
<path d="M573.8,379.5 L572.91,369.1 L578.78,370.33 Z" fill="#111"/>
<line x1="594.9" y1="441.9" x2="594.9" y2="455.8" stroke="#111" stroke-width="1.3"/>
<path d="M594.9,464.8 L591.9,454.8 L597.9,454.8 Z" fill="#111"/>
<line x1="625.6" y1="464" x2="623.77" y2="455.4" stroke="#111" stroke-width="1.3"/>
<path d="M621.9,446.6 L626.91,455.76 L621.05,457.01 Z" fill="#111"/>
</svg></body></html>
